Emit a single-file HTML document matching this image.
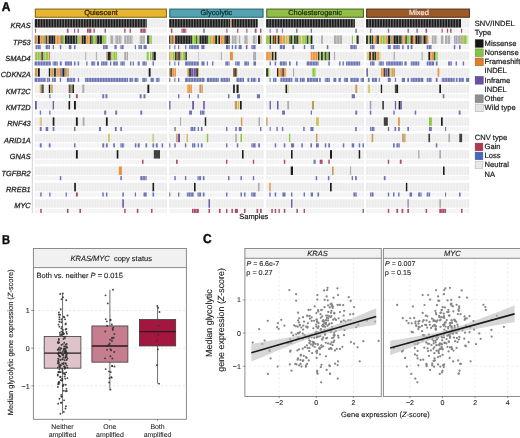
<!DOCTYPE html>
<html><head><meta charset="utf-8"><style>
html,body{margin:0;padding:0;background:#fff;}
body{width:520px;height:438px;overflow:hidden;}
svg{display:block;font-family:"Liberation Sans", sans-serif;}
text{text-rendering:geometricPrecision;}
</style></head><body>
<svg width="520" height="438" viewBox="0 0 520 438">
<defs><filter id="bl" x="-2%" y="-2%" width="104%" height="104%"><feGaussianBlur stdDeviation="0.45"/></filter>
<filter id="gb" x="0" y="0" width="100%" height="100%"><feGaussianBlur stdDeviation="0.3"/></filter></defs>
<rect width="520" height="438" fill="#fff"/><g filter="url(#gb)"><text transform="translate(1.75,11.15) scale(0.93,1)" font-size="12.9" font-weight="bold" fill="#111" stroke="#111" stroke-width="0.45">A</text><rect x="35.35" y="9.1" width="131.10" height="8.15" fill="#e8b532" stroke="#8a6a14" stroke-width="1.1"/><text x="100.90" y="15.40" font-size="7.45" text-anchor="middle" font-weight="normal" font-style="normal" fill="#2a2000" stroke="#2a2000" stroke-width="0.22">Quiescent</text><rect x="169.75" y="9.1" width="93.30" height="8.15" fill="#52a3b1" stroke="#2b6a76" stroke-width="1.1"/><text x="216.40" y="15.40" font-size="7.45" text-anchor="middle" font-weight="normal" font-style="normal" fill="#0e2a30" stroke="#0e2a30" stroke-width="0.22">Glycolytic</text><rect x="266.75" y="9.1" width="96.70" height="8.15" fill="#90be4a" stroke="#4b6d1c" stroke-width="1.1"/><text x="315.10" y="15.40" font-size="7.45" text-anchor="middle" font-weight="normal" font-style="normal" fill="#1c2a08" stroke="#1c2a08" stroke-width="0.22">Cholesterogenic</text><rect x="366.65" y="9.1" width="102.80" height="8.15" fill="#9b5a2b" stroke="#5e3414" stroke-width="1.1"/><text x="418.95" y="15.40" font-size="7.45" text-anchor="middle" font-weight="normal" font-style="normal" fill="#f4e6da" stroke="#f4e6da" stroke-width="0.22">Mixed</text><text x="30.70" y="28.45" font-size="7.4" text-anchor="end" font-weight="normal" font-style="italic" fill="#1c1c1c" stroke="#1c1c1c" stroke-width="0.25">KRAS</text><text x="30.70" y="44.79" font-size="7.4" text-anchor="end" font-weight="normal" font-style="italic" fill="#1c1c1c" stroke="#1c1c1c" stroke-width="0.25">TP53</text><text x="30.70" y="61.13" font-size="7.4" text-anchor="end" font-weight="normal" font-style="italic" fill="#1c1c1c" stroke="#1c1c1c" stroke-width="0.25">SMAD4</text><text x="30.70" y="77.47" font-size="7.4" text-anchor="end" font-weight="normal" font-style="italic" fill="#1c1c1c" stroke="#1c1c1c" stroke-width="0.25">CDKN2A</text><text x="30.70" y="93.81" font-size="7.4" text-anchor="end" font-weight="normal" font-style="italic" fill="#1c1c1c" stroke="#1c1c1c" stroke-width="0.25">KMT2C</text><text x="30.70" y="110.15" font-size="7.4" text-anchor="end" font-weight="normal" font-style="italic" fill="#1c1c1c" stroke="#1c1c1c" stroke-width="0.25">KMT2D</text><text x="30.70" y="126.49" font-size="7.4" text-anchor="end" font-weight="normal" font-style="italic" fill="#1c1c1c" stroke="#1c1c1c" stroke-width="0.25">RNF43</text><text x="30.70" y="142.83" font-size="7.4" text-anchor="end" font-weight="normal" font-style="italic" fill="#1c1c1c" stroke="#1c1c1c" stroke-width="0.25">ARID1A</text><text x="30.70" y="159.17" font-size="7.4" text-anchor="end" font-weight="normal" font-style="italic" fill="#1c1c1c" stroke="#1c1c1c" stroke-width="0.25">GNAS</text><text x="30.70" y="175.51" font-size="7.4" text-anchor="end" font-weight="normal" font-style="italic" fill="#1c1c1c" stroke="#1c1c1c" stroke-width="0.25">TGFBR2</text><text x="30.70" y="191.85" font-size="7.4" text-anchor="end" font-weight="normal" font-style="italic" fill="#1c1c1c" stroke="#1c1c1c" stroke-width="0.25">RREB1</text><text x="30.70" y="208.19" font-size="7.4" text-anchor="end" font-weight="normal" font-style="italic" fill="#1c1c1c" stroke="#1c1c1c" stroke-width="0.25">MYC</text><g filter="url(#bl)"><rect x="34.80" y="19.08" width="132.20" height="8.45" fill="#ececec"/><rect x="34.80" y="28.68" width="132.20" height="4.10" fill="#f3f3f3"/><rect x="169.20" y="19.08" width="94.40" height="8.45" fill="#ececec"/><rect x="169.20" y="28.68" width="94.40" height="4.10" fill="#f3f3f3"/><rect x="266.20" y="19.08" width="97.80" height="8.45" fill="#ececec"/><rect x="266.20" y="28.68" width="97.80" height="4.10" fill="#f3f3f3"/><rect x="366.10" y="19.08" width="103.10" height="8.45" fill="#ececec"/><rect x="366.10" y="28.68" width="103.10" height="4.10" fill="#f3f3f3"/><rect x="34.80" y="35.46" width="132.20" height="8.45" fill="#ececec"/><rect x="34.80" y="45.06" width="132.20" height="4.10" fill="#f3f3f3"/><rect x="169.20" y="35.46" width="94.40" height="8.45" fill="#ececec"/><rect x="169.20" y="45.06" width="94.40" height="4.10" fill="#f3f3f3"/><rect x="266.20" y="35.46" width="97.80" height="8.45" fill="#ececec"/><rect x="266.20" y="45.06" width="97.80" height="4.10" fill="#f3f3f3"/><rect x="366.10" y="35.46" width="103.10" height="8.45" fill="#ececec"/><rect x="366.10" y="45.06" width="103.10" height="4.10" fill="#f3f3f3"/><rect x="34.80" y="51.84" width="132.20" height="8.45" fill="#ececec"/><rect x="34.80" y="61.44" width="132.20" height="4.10" fill="#f3f3f3"/><rect x="169.20" y="51.84" width="94.40" height="8.45" fill="#ececec"/><rect x="169.20" y="61.44" width="94.40" height="4.10" fill="#f3f3f3"/><rect x="266.20" y="51.84" width="97.80" height="8.45" fill="#ececec"/><rect x="266.20" y="61.44" width="97.80" height="4.10" fill="#f3f3f3"/><rect x="366.10" y="51.84" width="103.10" height="8.45" fill="#ececec"/><rect x="366.10" y="61.44" width="103.10" height="4.10" fill="#f3f3f3"/><rect x="34.80" y="68.22" width="132.20" height="8.45" fill="#ececec"/><rect x="34.80" y="77.82" width="132.20" height="4.10" fill="#f3f3f3"/><rect x="169.20" y="68.22" width="94.40" height="8.45" fill="#ececec"/><rect x="169.20" y="77.82" width="94.40" height="4.10" fill="#f3f3f3"/><rect x="266.20" y="68.22" width="97.80" height="8.45" fill="#ececec"/><rect x="266.20" y="77.82" width="97.80" height="4.10" fill="#f3f3f3"/><rect x="366.10" y="68.22" width="103.10" height="8.45" fill="#ececec"/><rect x="366.10" y="77.82" width="103.10" height="4.10" fill="#f3f3f3"/><rect x="34.80" y="84.60" width="132.20" height="8.45" fill="#ececec"/><rect x="34.80" y="94.20" width="132.20" height="4.10" fill="#f3f3f3"/><rect x="169.20" y="84.60" width="94.40" height="8.45" fill="#ececec"/><rect x="169.20" y="94.20" width="94.40" height="4.10" fill="#f3f3f3"/><rect x="266.20" y="84.60" width="97.80" height="8.45" fill="#ececec"/><rect x="266.20" y="94.20" width="97.80" height="4.10" fill="#f3f3f3"/><rect x="366.10" y="84.60" width="103.10" height="8.45" fill="#ececec"/><rect x="366.10" y="94.20" width="103.10" height="4.10" fill="#f3f3f3"/><rect x="34.80" y="100.98" width="132.20" height="8.45" fill="#ececec"/><rect x="34.80" y="110.58" width="132.20" height="4.10" fill="#f3f3f3"/><rect x="169.20" y="100.98" width="94.40" height="8.45" fill="#ececec"/><rect x="169.20" y="110.58" width="94.40" height="4.10" fill="#f3f3f3"/><rect x="266.20" y="100.98" width="97.80" height="8.45" fill="#ececec"/><rect x="266.20" y="110.58" width="97.80" height="4.10" fill="#f3f3f3"/><rect x="366.10" y="100.98" width="103.10" height="8.45" fill="#ececec"/><rect x="366.10" y="110.58" width="103.10" height="4.10" fill="#f3f3f3"/><rect x="34.80" y="117.36" width="132.20" height="8.45" fill="#ececec"/><rect x="34.80" y="126.96" width="132.20" height="4.10" fill="#f3f3f3"/><rect x="169.20" y="117.36" width="94.40" height="8.45" fill="#ececec"/><rect x="169.20" y="126.96" width="94.40" height="4.10" fill="#f3f3f3"/><rect x="266.20" y="117.36" width="97.80" height="8.45" fill="#ececec"/><rect x="266.20" y="126.96" width="97.80" height="4.10" fill="#f3f3f3"/><rect x="366.10" y="117.36" width="103.10" height="8.45" fill="#ececec"/><rect x="366.10" y="126.96" width="103.10" height="4.10" fill="#f3f3f3"/><rect x="34.80" y="133.74" width="132.20" height="8.45" fill="#ececec"/><rect x="34.80" y="143.34" width="132.20" height="4.10" fill="#f3f3f3"/><rect x="169.20" y="133.74" width="94.40" height="8.45" fill="#ececec"/><rect x="169.20" y="143.34" width="94.40" height="4.10" fill="#f3f3f3"/><rect x="266.20" y="133.74" width="97.80" height="8.45" fill="#ececec"/><rect x="266.20" y="143.34" width="97.80" height="4.10" fill="#f3f3f3"/><rect x="366.10" y="133.74" width="103.10" height="8.45" fill="#ececec"/><rect x="366.10" y="143.34" width="103.10" height="4.10" fill="#f3f3f3"/><rect x="34.80" y="150.12" width="132.20" height="8.45" fill="#ececec"/><rect x="34.80" y="159.72" width="132.20" height="4.10" fill="#f3f3f3"/><rect x="169.20" y="150.12" width="94.40" height="8.45" fill="#ececec"/><rect x="169.20" y="159.72" width="94.40" height="4.10" fill="#f3f3f3"/><rect x="266.20" y="150.12" width="97.80" height="8.45" fill="#ececec"/><rect x="266.20" y="159.72" width="97.80" height="4.10" fill="#f3f3f3"/><rect x="366.10" y="150.12" width="103.10" height="8.45" fill="#ececec"/><rect x="366.10" y="159.72" width="103.10" height="4.10" fill="#f3f3f3"/><rect x="34.80" y="166.50" width="132.20" height="8.45" fill="#ececec"/><rect x="34.80" y="176.10" width="132.20" height="4.10" fill="#f3f3f3"/><rect x="169.20" y="166.50" width="94.40" height="8.45" fill="#ececec"/><rect x="169.20" y="176.10" width="94.40" height="4.10" fill="#f3f3f3"/><rect x="266.20" y="166.50" width="97.80" height="8.45" fill="#ececec"/><rect x="266.20" y="176.10" width="97.80" height="4.10" fill="#f3f3f3"/><rect x="366.10" y="166.50" width="103.10" height="8.45" fill="#ececec"/><rect x="366.10" y="176.10" width="103.10" height="4.10" fill="#f3f3f3"/><rect x="34.80" y="182.88" width="132.20" height="8.45" fill="#ececec"/><rect x="34.80" y="192.48" width="132.20" height="4.10" fill="#f3f3f3"/><rect x="169.20" y="182.88" width="94.40" height="8.45" fill="#ececec"/><rect x="169.20" y="192.48" width="94.40" height="4.10" fill="#f3f3f3"/><rect x="266.20" y="182.88" width="97.80" height="8.45" fill="#ececec"/><rect x="266.20" y="192.48" width="97.80" height="4.10" fill="#f3f3f3"/><rect x="366.10" y="182.88" width="103.10" height="8.45" fill="#ececec"/><rect x="366.10" y="192.48" width="103.10" height="4.10" fill="#f3f3f3"/><rect x="34.80" y="199.26" width="132.20" height="8.45" fill="#ececec"/><rect x="34.80" y="208.86" width="132.20" height="4.10" fill="#f3f3f3"/><rect x="169.20" y="199.26" width="94.40" height="8.45" fill="#ececec"/><rect x="169.20" y="208.86" width="94.40" height="4.10" fill="#f3f3f3"/><rect x="266.20" y="199.26" width="97.80" height="8.45" fill="#ececec"/><rect x="266.20" y="208.86" width="97.80" height="4.10" fill="#f3f3f3"/><rect x="366.10" y="199.26" width="103.10" height="8.45" fill="#ececec"/><rect x="366.10" y="208.86" width="103.10" height="4.10" fill="#f3f3f3"/><path d="M37.50 19V213M40.20 19V213M42.89 19V213M45.59 19V213M48.29 19V213M50.99 19V213M53.69 19V213M56.38 19V213M59.08 19V213M61.78 19V213M64.48 19V213M67.18 19V213M69.87 19V213M72.57 19V213M75.27 19V213M77.97 19V213M80.67 19V213M83.36 19V213M86.06 19V213M88.76 19V213M91.46 19V213M94.16 19V213M96.85 19V213M99.55 19V213M102.25 19V213M104.95 19V213M107.64 19V213M110.34 19V213M113.04 19V213M115.74 19V213M118.44 19V213M121.13 19V213M123.83 19V213M126.53 19V213M129.23 19V213M131.93 19V213M134.62 19V213M137.32 19V213M140.02 19V213M142.72 19V213M145.42 19V213M148.11 19V213M150.81 19V213M153.51 19V213M156.21 19V213M158.91 19V213M161.60 19V213M164.30 19V213M171.90 19V213M174.59 19V213M177.29 19V213M179.99 19V213M182.69 19V213M185.38 19V213M188.08 19V213M190.78 19V213M193.47 19V213M196.17 19V213M198.87 19V213M201.57 19V213M204.26 19V213M206.96 19V213M209.66 19V213M212.35 19V213M215.05 19V213M217.75 19V213M220.45 19V213M223.14 19V213M225.84 19V213M228.54 19V213M231.23 19V213M233.93 19V213M236.63 19V213M239.33 19V213M242.02 19V213M244.72 19V213M247.42 19V213M250.11 19V213M252.81 19V213M255.51 19V213M258.21 19V213M260.90 19V213M268.92 19V213M271.63 19V213M274.35 19V213M277.07 19V213M279.78 19V213M282.50 19V213M285.22 19V213M287.93 19V213M290.65 19V213M293.37 19V213M296.08 19V213M298.80 19V213M301.52 19V213M304.23 19V213M306.95 19V213M309.67 19V213M312.38 19V213M315.10 19V213M317.82 19V213M320.53 19V213M323.25 19V213M325.97 19V213M328.68 19V213M331.40 19V213M334.12 19V213M336.83 19V213M339.55 19V213M342.27 19V213M344.98 19V213M347.70 19V213M350.42 19V213M353.13 19V213M355.85 19V213M358.57 19V213M361.28 19V213M368.81 19V213M371.53 19V213M374.24 19V213M376.95 19V213M379.67 19V213M382.38 19V213M385.09 19V213M387.81 19V213M390.52 19V213M393.23 19V213M395.94 19V213M398.66 19V213M401.37 19V213M404.08 19V213M406.80 19V213M409.51 19V213M412.22 19V213M414.94 19V213M417.65 19V213M420.36 19V213M423.08 19V213M425.79 19V213M428.50 19V213M431.22 19V213M433.93 19V213M436.64 19V213M439.36 19V213M442.07 19V213M444.78 19V213M447.49 19V213M450.21 19V213M452.92 19V213M455.63 19V213M458.35 19V213M461.06 19V213M463.77 19V213M466.49 19V213" stroke="#fff" stroke-width="0.7" stroke-opacity="0.55"/><rect x="34.80" y="19.08" width="111.90" height="8.45" fill="#1e1e1e"/><rect x="169.20" y="19.08" width="61.10" height="8.45" fill="#1e1e1e"/><rect x="230.30" y="19.08" width="1.10" height="8.45" fill="#e8923a"/><rect x="231.40" y="19.08" width="26.30" height="8.45" fill="#1e1e1e"/><rect x="266.20" y="19.08" width="88.70" height="8.45" fill="#1e1e1e"/><rect x="366.10" y="19.08" width="94.90" height="8.45" fill="#1e1e1e"/><rect x="35.00" y="28.68" width="0.90" height="4.10" fill="#a4506e"/><rect x="66.90" y="28.68" width="1.60" height="4.10" fill="#a4506e"/><rect x="74.00" y="28.68" width="1.20" height="4.10" fill="#7a7aa8"/><rect x="77.60" y="28.68" width="1.20" height="4.10" fill="#a4506e"/><rect x="87.00" y="28.68" width="4.30" height="4.10" fill="#a4506e"/><rect x="93.50" y="28.68" width="1.30" height="4.10" fill="#a4506e"/><rect x="104.60" y="28.68" width="1.30" height="4.10" fill="#a4506e"/><rect x="124.20" y="28.68" width="1.30" height="4.10" fill="#a4506e"/><rect x="129.60" y="28.68" width="1.30" height="4.10" fill="#a4506e"/><rect x="140.30" y="28.68" width="5.80" height="4.10" fill="#a4506e"/><rect x="170.90" y="28.68" width="1.40" height="4.10" fill="#a4506e"/><rect x="181.50" y="28.68" width="4.80" height="4.10" fill="#a4506e"/><rect x="203.20" y="28.68" width="1.60" height="4.10" fill="#7a7aa8"/><rect x="226.30" y="28.68" width="1.10" height="4.10" fill="#a4506e"/><rect x="237.10" y="28.68" width="1.20" height="4.10" fill="#a4506e"/><rect x="246.30" y="28.68" width="1.10" height="4.10" fill="#a4506e"/><rect x="254.80" y="28.68" width="1.70" height="4.10" fill="#a4506e"/><rect x="260.00" y="28.68" width="1.40" height="4.10" fill="#a4506e"/><rect x="269.60" y="28.68" width="1.10" height="4.10" fill="#7a7aa8"/><rect x="276.40" y="28.68" width="1.20" height="4.10" fill="#7a7aa8"/><rect x="281.90" y="28.68" width="1.10" height="4.10" fill="#7a7aa8"/><rect x="296.00" y="28.68" width="1.50" height="4.10" fill="#7a7aa8"/><rect x="310.70" y="28.68" width="1.30" height="4.10" fill="#7a7aa8"/><rect x="355.30" y="28.68" width="1.50" height="4.10" fill="#7a7aa8"/><rect x="370.10" y="28.68" width="1.20" height="4.10" fill="#7a7aa8"/><rect x="387.80" y="28.68" width="1.40" height="4.10" fill="#7a7aa8"/><rect x="407.50" y="28.68" width="1.50" height="4.10" fill="#7a7aa8"/><rect x="416.40" y="28.68" width="1.50" height="4.10" fill="#7a7aa8"/><rect x="425.60" y="28.68" width="1.50" height="4.10" fill="#a4506e"/><rect x="441.60" y="28.68" width="1.10" height="4.10" fill="#a4506e"/><rect x="446.90" y="28.68" width="1.20" height="4.10" fill="#a4506e"/><rect x="450.10" y="28.68" width="1.40" height="4.10" fill="#a4506e"/><rect x="461.00" y="28.68" width="1.10" height="4.10" fill="#a4506e"/><rect x="34.80" y="35.46" width="0.70" height="8.45" fill="#1e1e1e"/><rect x="35.50" y="35.46" width="2.10" height="8.45" fill="#e8923a"/><rect x="37.60" y="35.46" width="2.80" height="8.45" fill="#1e1e1e"/><rect x="40.40" y="35.46" width="1.60" height="8.45" fill="#e8923a"/><rect x="42.00" y="35.46" width="3.30" height="8.45" fill="#c49a52"/><rect x="45.30" y="35.46" width="1.60" height="8.45" fill="#1e1e1e"/><rect x="46.90" y="35.46" width="1.50" height="8.45" fill="#c49a52"/><rect x="48.40" y="35.46" width="6.90" height="8.45" fill="#1e1e1e"/><rect x="55.30" y="35.46" width="4.50" height="8.45" fill="#e8923a"/><rect x="59.80" y="35.46" width="1.50" height="8.45" fill="#c49a52"/><rect x="61.30" y="35.46" width="1.30" height="8.45" fill="#1e1e1e"/><rect x="62.60" y="35.46" width="2.30" height="8.45" fill="#8dc63f"/><rect x="64.90" y="35.46" width="10.60" height="8.45" fill="#1e1e1e"/><rect x="75.50" y="35.46" width="2.10" height="8.45" fill="#2e3a22"/><rect x="77.60" y="35.46" width="2.10" height="8.45" fill="#8dc63f"/><rect x="79.70" y="35.46" width="2.20" height="8.45" fill="#c49a52"/><rect x="81.90" y="35.46" width="4.30" height="8.45" fill="#1e1e1e"/><rect x="86.20" y="35.46" width="3.90" height="8.45" fill="#e8923a"/><rect x="90.10" y="35.46" width="2.50" height="8.45" fill="#1e1e1e"/><rect x="92.60" y="35.46" width="3.90" height="8.45" fill="#8dc63f"/><rect x="96.50" y="35.46" width="6.00" height="8.45" fill="#1e1e1e"/><rect x="102.50" y="35.46" width="3.70" height="8.45" fill="#8dc63f"/><rect x="110.00" y="35.46" width="3.20" height="8.45" fill="#adadad"/><rect x="114.90" y="35.46" width="6.70" height="8.45" fill="#adadad"/><rect x="124.20" y="35.46" width="8.40" height="8.45" fill="#adadad"/><rect x="139.70" y="35.46" width="5.10" height="8.45" fill="#adadad"/><rect x="147.10" y="35.46" width="2.20" height="8.45" fill="#1e1e1e"/><rect x="149.30" y="35.46" width="2.60" height="8.45" fill="#8dc63f"/><rect x="169.20" y="35.46" width="1.30" height="8.45" fill="#1e1e1e"/><rect x="170.50" y="35.46" width="1.20" height="8.45" fill="#e8923a"/><rect x="171.70" y="35.46" width="1.10" height="8.45" fill="#1e1e1e"/><rect x="172.80" y="35.46" width="2.30" height="8.45" fill="#e8923a"/><rect x="175.10" y="35.46" width="16.90" height="8.45" fill="#1e1e1e"/><rect x="192.00" y="35.46" width="4.00" height="8.45" fill="#8dc63f"/><rect x="196.00" y="35.46" width="1.10" height="8.45" fill="#1e1e1e"/><rect x="197.10" y="35.46" width="2.30" height="8.45" fill="#8dc63f"/><rect x="199.40" y="35.46" width="8.80" height="8.45" fill="#1e1e1e"/><rect x="208.20" y="35.46" width="3.20" height="8.45" fill="#8dc63f"/><rect x="211.40" y="35.46" width="3.40" height="8.45" fill="#e8923a"/><rect x="214.80" y="35.46" width="2.30" height="8.45" fill="#1e1e1e"/><rect x="217.10" y="35.46" width="1.20" height="8.45" fill="#8dc63f"/><rect x="218.30" y="35.46" width="1.70" height="8.45" fill="#1e1e1e"/><rect x="220.00" y="35.46" width="4.60" height="8.45" fill="#e8923a"/><rect x="224.60" y="35.46" width="5.10" height="8.45" fill="#1e1e1e"/><rect x="231.80" y="35.46" width="5.30" height="8.45" fill="#adadad"/><rect x="238.80" y="35.46" width="1.40" height="8.45" fill="#adadad"/><rect x="244.00" y="35.46" width="4.00" height="8.45" fill="#adadad"/><rect x="252.80" y="35.46" width="3.70" height="8.45" fill="#adadad"/><rect x="258.00" y="35.46" width="2.30" height="8.45" fill="#1e1e1e"/><rect x="260.30" y="35.46" width="1.40" height="8.45" fill="#c49a52"/><rect x="266.20" y="35.46" width="3.40" height="8.45" fill="#8dc63f"/><rect x="269.60" y="35.46" width="1.70" height="8.45" fill="#1e1e1e"/><rect x="271.30" y="35.46" width="1.70" height="8.45" fill="#c49a52"/><rect x="273.00" y="35.46" width="3.40" height="8.45" fill="#5a3a1e"/><rect x="276.40" y="35.46" width="1.40" height="8.45" fill="#c49a52"/><rect x="277.80" y="35.46" width="2.00" height="8.45" fill="#1e1e1e"/><rect x="279.80" y="35.46" width="4.00" height="8.45" fill="#e8923a"/><rect x="283.80" y="35.46" width="1.70" height="8.45" fill="#c49a52"/><rect x="285.50" y="35.46" width="4.00" height="8.45" fill="#cfc25a"/><rect x="289.50" y="35.46" width="2.90" height="8.45" fill="#1e1e1e"/><rect x="292.40" y="35.46" width="1.70" height="8.45" fill="#8dc63f"/><rect x="294.10" y="35.46" width="1.70" height="8.45" fill="#1e1e1e"/><rect x="295.80" y="35.46" width="2.90" height="8.45" fill="#2e3a22"/><rect x="298.70" y="35.46" width="1.10" height="8.45" fill="#8dc63f"/><rect x="299.80" y="35.46" width="2.90" height="8.45" fill="#cfc25a"/><rect x="302.70" y="35.46" width="4.00" height="8.45" fill="#8dc63f"/><rect x="306.70" y="35.46" width="1.70" height="8.45" fill="#1e1e1e"/><rect x="308.40" y="35.46" width="2.30" height="8.45" fill="#8dc63f"/><rect x="310.70" y="35.46" width="1.70" height="8.45" fill="#1e1e1e"/><rect x="321.10" y="35.46" width="1.80" height="8.45" fill="#adadad"/><rect x="334.00" y="35.46" width="8.00" height="8.45" fill="#adadad"/><rect x="351.90" y="35.46" width="1.10" height="8.45" fill="#8dc63f"/><rect x="356.50" y="35.46" width="2.20" height="8.45" fill="#2e3a22"/><rect x="366.10" y="35.46" width="1.80" height="8.45" fill="#1e1e1e"/><rect x="367.90" y="35.46" width="1.70" height="8.45" fill="#8dc63f"/><rect x="369.60" y="35.46" width="1.70" height="8.45" fill="#1e1e1e"/><rect x="371.30" y="35.46" width="1.70" height="8.45" fill="#2e3a22"/><rect x="373.00" y="35.46" width="1.70" height="8.45" fill="#c49a52"/><rect x="374.70" y="35.46" width="1.70" height="8.45" fill="#e8923a"/><rect x="376.40" y="35.46" width="2.50" height="8.45" fill="#1e1e1e"/><rect x="378.90" y="35.46" width="2.10" height="8.45" fill="#cfc25a"/><rect x="381.00" y="35.46" width="1.10" height="8.45" fill="#e8923a"/><rect x="382.10" y="35.46" width="3.50" height="8.45" fill="#8dc63f"/><rect x="385.60" y="35.46" width="2.20" height="8.45" fill="#e8923a"/><rect x="387.80" y="35.46" width="2.90" height="8.45" fill="#1e1e1e"/><rect x="390.70" y="35.46" width="2.60" height="8.45" fill="#c49a52"/><rect x="393.30" y="35.46" width="4.80" height="8.45" fill="#1e1e1e"/><rect x="398.10" y="35.46" width="4.00" height="8.45" fill="#2e3a22"/><rect x="402.10" y="35.46" width="1.70" height="8.45" fill="#c49a52"/><rect x="403.80" y="35.46" width="1.70" height="8.45" fill="#e8923a"/><rect x="405.50" y="35.46" width="1.80" height="8.45" fill="#1e1e1e"/><rect x="407.30" y="35.46" width="3.40" height="8.45" fill="#8dc63f"/><rect x="410.70" y="35.46" width="2.30" height="8.45" fill="#1e1e1e"/><rect x="413.00" y="35.46" width="2.30" height="8.45" fill="#e8923a"/><rect x="415.30" y="35.46" width="4.00" height="8.45" fill="#1e1e1e"/><rect x="419.30" y="35.46" width="2.30" height="8.45" fill="#1e1e1e"/><rect x="421.60" y="35.46" width="1.70" height="8.45" fill="#c49a52"/><rect x="423.30" y="35.46" width="3.40" height="8.45" fill="#1e1e1e"/><rect x="426.70" y="35.46" width="1.70" height="8.45" fill="#e8923a"/><rect x="431.80" y="35.46" width="5.20" height="8.45" fill="#adadad"/><rect x="441.00" y="35.46" width="2.30" height="8.45" fill="#adadad"/><rect x="445.00" y="35.46" width="5.10" height="8.45" fill="#adadad"/><rect x="454.10" y="35.46" width="3.40" height="8.45" fill="#a49cc0"/><rect x="458.10" y="35.46" width="2.90" height="8.45" fill="#adadad"/><rect x="461.00" y="35.46" width="1.70" height="8.45" fill="#c49a52"/><rect x="462.70" y="35.46" width="4.60" height="8.45" fill="#8dc63f"/><rect x="35.50" y="45.06" width="5.50" height="4.10" fill="#6b75b6"/><rect x="45.60" y="45.06" width="4.40" height="4.10" fill="#6b75b6"/><rect x="52.70" y="45.06" width="1.30" height="4.10" fill="#6b75b6"/><rect x="59.80" y="45.06" width="1.50" height="4.10" fill="#6b75b6"/><rect x="68.80" y="45.06" width="2.60" height="4.10" fill="#6b75b6"/><rect x="74.00" y="45.06" width="1.50" height="4.10" fill="#6b75b6"/><rect x="103.00" y="45.06" width="4.70" height="4.10" fill="#6b75b6"/><rect x="114.50" y="45.06" width="2.20" height="4.10" fill="#6b75b6"/><rect x="120.30" y="45.06" width="3.30" height="4.10" fill="#6b75b6"/><rect x="134.80" y="45.06" width="1.20" height="4.10" fill="#6b75b6"/><rect x="138.40" y="45.06" width="3.60" height="4.10" fill="#6b75b6"/><rect x="143.50" y="45.06" width="3.20" height="4.10" fill="#6b75b6"/><rect x="169.20" y="45.06" width="1.10" height="4.10" fill="#6b75b6"/><rect x="174.30" y="45.06" width="1.10" height="4.10" fill="#6b75b6"/><rect x="178.00" y="45.06" width="1.20" height="4.10" fill="#6b75b6"/><rect x="185.10" y="45.06" width="1.20" height="4.10" fill="#6b75b6"/><rect x="189.10" y="45.06" width="9.70" height="4.10" fill="#6b75b6"/><rect x="201.30" y="45.06" width="3.20" height="4.10" fill="#6b75b6"/><rect x="226.00" y="45.06" width="3.70" height="4.10" fill="#6b75b6"/><rect x="231.80" y="45.06" width="1.30" height="4.10" fill="#6b75b6"/><rect x="234.80" y="45.06" width="1.70" height="4.10" fill="#6b75b6"/><rect x="238.60" y="45.06" width="3.10" height="4.10" fill="#6b75b6"/><rect x="245.90" y="45.06" width="1.50" height="4.10" fill="#a4506e"/><rect x="251.40" y="45.06" width="4.60" height="4.10" fill="#6b75b6"/><rect x="269.60" y="45.06" width="1.10" height="4.10" fill="#6b75b6"/><rect x="279.80" y="45.06" width="5.20" height="4.10" fill="#6b75b6"/><rect x="292.40" y="45.06" width="1.70" height="4.10" fill="#6b75b6"/><rect x="303.80" y="45.06" width="1.40" height="4.10" fill="#6b75b6"/><rect x="310.70" y="45.06" width="3.40" height="4.10" fill="#6b75b6"/><rect x="326.80" y="45.06" width="1.50" height="4.10" fill="#6b75b6"/><rect x="350.30" y="45.06" width="6.50" height="4.10" fill="#6b75b6"/><rect x="370.10" y="45.06" width="4.60" height="4.10" fill="#6b75b6"/><rect x="387.80" y="45.06" width="2.90" height="4.10" fill="#6b75b6"/><rect x="393.30" y="45.06" width="6.50" height="4.10" fill="#6b75b6"/><rect x="402.10" y="45.06" width="1.50" height="4.10" fill="#6b75b6"/><rect x="407.30" y="45.06" width="1.70" height="4.10" fill="#6b75b6"/><rect x="410.70" y="45.06" width="1.70" height="4.10" fill="#6b75b6"/><rect x="426.70" y="45.06" width="5.10" height="4.10" fill="#6b75b6"/><rect x="453.80" y="45.06" width="1.50" height="4.10" fill="#6b75b6"/><rect x="459.00" y="45.06" width="1.60" height="4.10" fill="#6b75b6"/><rect x="34.80" y="51.84" width="0.70" height="8.45" fill="#c49a52"/><rect x="35.50" y="51.84" width="4.30" height="8.45" fill="#8dc63f"/><rect x="39.80" y="51.84" width="1.70" height="8.45" fill="#c49a52"/><rect x="41.50" y="51.84" width="1.80" height="8.45" fill="#1e1e1e"/><rect x="43.30" y="51.84" width="1.00" height="8.45" fill="#c49a52"/><rect x="44.30" y="51.84" width="4.10" height="8.45" fill="#8dc63f"/><rect x="48.40" y="51.84" width="1.70" height="8.45" fill="#c49a52"/><rect x="85.30" y="51.84" width="0.90" height="8.45" fill="#adadad"/><rect x="95.90" y="51.84" width="1.00" height="8.45" fill="#adadad"/><rect x="106.20" y="51.84" width="1.20" height="8.45" fill="#c49a52"/><rect x="107.40" y="51.84" width="3.90" height="8.45" fill="#1e1e1e"/><rect x="111.30" y="51.84" width="1.90" height="8.45" fill="#cfc25a"/><rect x="113.20" y="51.84" width="3.90" height="8.45" fill="#8dc63f"/><rect x="124.20" y="51.84" width="3.80" height="8.45" fill="#adadad"/><rect x="146.70" y="51.84" width="2.00" height="8.45" fill="#8dc63f"/><rect x="150.00" y="51.84" width="1.50" height="8.45" fill="#8dc63f"/><rect x="152.50" y="51.84" width="3.30" height="8.45" fill="#1e1e1e"/><rect x="169.20" y="51.84" width="1.10" height="8.45" fill="#c49a52"/><rect x="170.30" y="51.84" width="2.50" height="8.45" fill="#cfc25a"/><rect x="172.80" y="51.84" width="2.00" height="8.45" fill="#8dc63f"/><rect x="174.80" y="51.84" width="1.80" height="8.45" fill="#2e3a22"/><rect x="176.60" y="51.84" width="2.20" height="8.45" fill="#5a3a1e"/><rect x="178.80" y="51.84" width="1.80" height="8.45" fill="#1e1e1e"/><rect x="180.60" y="51.84" width="1.70" height="8.45" fill="#cfc25a"/><rect x="182.30" y="51.84" width="2.80" height="8.45" fill="#8dc63f"/><rect x="185.10" y="51.84" width="1.70" height="8.45" fill="#1e1e1e"/><rect x="198.30" y="51.84" width="0.60" height="8.45" fill="#adadad"/><rect x="220.80" y="51.84" width="1.10" height="8.45" fill="#adadad"/><rect x="229.90" y="51.84" width="3.00" height="8.45" fill="#e8923a"/><rect x="253.10" y="51.84" width="2.90" height="8.45" fill="#adadad"/><rect x="266.20" y="51.84" width="4.50" height="8.45" fill="#e8923a"/><rect x="270.70" y="51.84" width="1.10" height="8.45" fill="#c49a52"/><rect x="271.80" y="51.84" width="1.80" height="8.45" fill="#1e1e1e"/><rect x="273.60" y="51.84" width="1.40" height="8.45" fill="#c49a52"/><rect x="275.00" y="51.84" width="1.40" height="8.45" fill="#1e1e1e"/><rect x="310.70" y="51.84" width="7.30" height="8.45" fill="#e8923a"/><rect x="318.00" y="51.84" width="1.50" height="8.45" fill="#1e1e1e"/><rect x="319.50" y="51.84" width="1.60" height="8.45" fill="#8dc63f"/><rect x="321.10" y="51.84" width="1.80" height="8.45" fill="#1e1e1e"/><rect x="322.90" y="51.84" width="1.90" height="8.45" fill="#8dc63f"/><rect x="324.80" y="51.84" width="1.80" height="8.45" fill="#1e1e1e"/><rect x="326.60" y="51.84" width="1.70" height="8.45" fill="#8dc63f"/><rect x="328.30" y="51.84" width="1.70" height="8.45" fill="#1e1e1e"/><rect x="334.00" y="51.84" width="1.10" height="8.45" fill="#adadad"/><rect x="367.30" y="51.84" width="1.70" height="8.45" fill="#cfc25a"/><rect x="369.00" y="51.84" width="2.30" height="8.45" fill="#5a3a1e"/><rect x="371.30" y="51.84" width="1.10" height="8.45" fill="#e8923a"/><rect x="372.40" y="51.84" width="1.70" height="8.45" fill="#1e1e1e"/><rect x="374.10" y="51.84" width="2.30" height="8.45" fill="#2e3a22"/><rect x="376.40" y="51.84" width="2.50" height="8.45" fill="#e8923a"/><rect x="378.90" y="51.84" width="1.50" height="8.45" fill="#cfc25a"/><rect x="393.60" y="51.84" width="1.30" height="8.45" fill="#adadad"/><rect x="421.60" y="51.84" width="1.10" height="8.45" fill="#adadad"/><rect x="428.40" y="51.84" width="1.70" height="8.45" fill="#1e1e1e"/><rect x="430.10" y="51.84" width="3.50" height="8.45" fill="#e8923a"/><rect x="433.60" y="51.84" width="1.70" height="8.45" fill="#2e3a22"/><rect x="435.30" y="51.84" width="2.30" height="8.45" fill="#8dc63f"/><rect x="34.60" y="61.44" width="16.20" height="4.10" fill="#6b75b6"/><rect x="52.70" y="61.44" width="5.10" height="4.10" fill="#6b75b6"/><rect x="59.80" y="61.44" width="1.90" height="4.10" fill="#6b75b6"/><rect x="64.90" y="61.44" width="7.10" height="4.10" fill="#6b75b6"/><rect x="74.00" y="61.44" width="1.50" height="4.10" fill="#6b75b6"/><rect x="77.60" y="61.44" width="1.50" height="4.10" fill="#6b75b6"/><rect x="86.20" y="61.44" width="1.30" height="4.10" fill="#6b75b6"/><rect x="91.30" y="61.44" width="3.90" height="4.10" fill="#6b75b6"/><rect x="97.00" y="61.44" width="2.00" height="4.10" fill="#6b75b6"/><rect x="101.00" y="61.44" width="6.40" height="4.10" fill="#6b75b6"/><rect x="110.00" y="61.44" width="1.30" height="4.10" fill="#6b75b6"/><rect x="113.20" y="61.44" width="4.60" height="4.10" fill="#6b75b6"/><rect x="120.30" y="61.44" width="4.50" height="4.10" fill="#6b75b6"/><rect x="130.00" y="61.44" width="1.30" height="4.10" fill="#6b75b6"/><rect x="132.60" y="61.44" width="1.30" height="4.10" fill="#6b75b6"/><rect x="137.70" y="61.44" width="2.00" height="4.10" fill="#6b75b6"/><rect x="142.20" y="61.44" width="4.50" height="4.10" fill="#6b75b6"/><rect x="152.50" y="61.44" width="1.50" height="4.10" fill="#6b75b6"/><rect x="169.20" y="61.44" width="1.10" height="4.10" fill="#6b75b6"/><rect x="174.30" y="61.44" width="1.10" height="4.10" fill="#6b75b6"/><rect x="178.00" y="61.44" width="1.20" height="4.10" fill="#6b75b6"/><rect x="185.10" y="61.44" width="13.70" height="4.10" fill="#6b75b6"/><rect x="201.10" y="61.44" width="3.40" height="4.10" fill="#6b75b6"/><rect x="206.80" y="61.44" width="1.20" height="4.10" fill="#6b75b6"/><rect x="212.00" y="61.44" width="1.40" height="4.10" fill="#6b75b6"/><rect x="225.10" y="61.44" width="4.40" height="4.10" fill="#6b75b6"/><rect x="235.20" y="61.44" width="4.80" height="4.10" fill="#6b75b6"/><rect x="244.00" y="61.44" width="4.90" height="4.10" fill="#6b75b6"/><rect x="253.40" y="61.44" width="2.60" height="4.10" fill="#6b75b6"/><rect x="269.60" y="61.44" width="1.30" height="4.10" fill="#6b75b6"/><rect x="274.70" y="61.44" width="1.50" height="4.10" fill="#6b75b6"/><rect x="279.80" y="61.44" width="6.90" height="4.10" fill="#6b75b6"/><rect x="289.00" y="61.44" width="1.70" height="4.10" fill="#6b75b6"/><rect x="296.00" y="61.44" width="1.50" height="4.10" fill="#6b75b6"/><rect x="306.70" y="61.44" width="11.90" height="4.10" fill="#6b75b6"/><rect x="328.30" y="61.44" width="1.50" height="4.10" fill="#6b75b6"/><rect x="339.10" y="61.44" width="1.40" height="4.10" fill="#6b75b6"/><rect x="342.50" y="61.44" width="1.40" height="4.10" fill="#6b75b6"/><rect x="346.00" y="61.44" width="14.20" height="4.10" fill="#6b75b6"/><rect x="370.10" y="61.44" width="4.60" height="4.10" fill="#6b75b6"/><rect x="378.70" y="61.44" width="5.10" height="4.10" fill="#6b75b6"/><rect x="386.10" y="61.44" width="16.60" height="4.10" fill="#6b75b6"/><rect x="404.40" y="61.44" width="2.30" height="4.10" fill="#6b75b6"/><rect x="410.70" y="61.44" width="8.60" height="4.10" fill="#6b75b6"/><rect x="426.70" y="61.44" width="7.40" height="4.10" fill="#6b75b6"/><rect x="435.80" y="61.44" width="1.80" height="4.10" fill="#6b75b6"/><rect x="448.10" y="61.44" width="3.70" height="4.10" fill="#6b75b6"/><rect x="455.60" y="61.44" width="1.40" height="4.10" fill="#6b75b6"/><rect x="462.70" y="61.44" width="1.40" height="4.10" fill="#6b75b6"/><rect x="34.80" y="68.22" width="3.10" height="8.45" fill="#c49a52"/><rect x="37.90" y="68.22" width="1.90" height="8.45" fill="#1e1e1e"/><rect x="48.80" y="68.22" width="1.30" height="8.45" fill="#1e1e1e"/><rect x="50.10" y="68.22" width="3.90" height="8.45" fill="#c49a52"/><rect x="54.00" y="68.22" width="1.90" height="8.45" fill="#1e1e1e"/><rect x="55.90" y="68.22" width="1.90" height="8.45" fill="#c49a52"/><rect x="57.80" y="68.22" width="2.60" height="8.45" fill="#e8923a"/><rect x="60.40" y="68.22" width="2.00" height="8.45" fill="#6f58a8"/><rect x="62.40" y="68.22" width="2.50" height="8.45" fill="#1e1e1e"/><rect x="64.90" y="68.22" width="3.90" height="8.45" fill="#c49a52"/><rect x="148.70" y="68.22" width="1.90" height="8.45" fill="#1e1e1e"/><rect x="169.20" y="68.22" width="1.30" height="8.45" fill="#c49a52"/><rect x="170.50" y="68.22" width="1.80" height="8.45" fill="#1e1e1e"/><rect x="172.30" y="68.22" width="3.70" height="8.45" fill="#e8923a"/><rect x="187.40" y="68.22" width="1.70" height="8.45" fill="#c49a52"/><rect x="189.10" y="68.22" width="2.30" height="8.45" fill="#404040"/><rect x="191.40" y="68.22" width="4.60" height="8.45" fill="#6f58a8"/><rect x="196.00" y="68.22" width="1.90" height="8.45" fill="#1e1e1e"/><rect x="197.90" y="68.22" width="1.10" height="8.45" fill="#cfc25a"/><rect x="233.10" y="68.22" width="4.00" height="8.45" fill="#5a3a1e"/><rect x="266.20" y="68.22" width="1.70" height="8.45" fill="#1e1e1e"/><rect x="267.90" y="68.22" width="1.40" height="8.45" fill="#8dc63f"/><rect x="277.00" y="68.22" width="1.50" height="8.45" fill="#1e1e1e"/><rect x="278.50" y="68.22" width="3.40" height="8.45" fill="#e8923a"/><rect x="281.90" y="68.22" width="1.90" height="8.45" fill="#1e1e1e"/><rect x="283.80" y="68.22" width="2.30" height="8.45" fill="#e8923a"/><rect x="293.00" y="68.22" width="1.10" height="8.45" fill="#adadad"/><rect x="312.00" y="68.22" width="3.70" height="8.45" fill="#8dc63f"/><rect x="366.40" y="68.22" width="1.50" height="8.45" fill="#6f58a8"/><rect x="381.00" y="68.22" width="2.80" height="8.45" fill="#e8923a"/><rect x="383.80" y="68.22" width="1.80" height="8.45" fill="#1e1e1e"/><rect x="385.60" y="68.22" width="2.20" height="8.45" fill="#6f58a8"/><rect x="387.80" y="68.22" width="1.80" height="8.45" fill="#1e1e1e"/><rect x="389.60" y="68.22" width="2.20" height="8.45" fill="#cfc25a"/><rect x="391.80" y="68.22" width="3.10" height="8.45" fill="#c49a52"/><rect x="437.60" y="68.22" width="1.70" height="8.45" fill="#e8923a"/><rect x="34.60" y="77.82" width="11.00" height="4.10" fill="#6b75b6"/><rect x="46.90" y="77.82" width="3.20" height="4.10" fill="#6b75b6"/><rect x="52.00" y="77.82" width="3.90" height="4.10" fill="#6b75b6"/><rect x="59.80" y="77.82" width="1.30" height="4.10" fill="#6b75b6"/><rect x="66.90" y="77.82" width="8.30" height="4.10" fill="#6b75b6"/><rect x="77.80" y="77.82" width="1.30" height="4.10" fill="#6b75b6"/><rect x="84.90" y="77.82" width="43.20" height="4.10" fill="#6b75b6"/><rect x="129.40" y="77.82" width="3.80" height="4.10" fill="#6b75b6"/><rect x="134.50" y="77.82" width="3.90" height="4.10" fill="#6b75b6"/><rect x="142.00" y="77.82" width="4.70" height="4.10" fill="#6b75b6"/><rect x="150.60" y="77.82" width="3.20" height="4.10" fill="#6b75b6"/><rect x="155.80" y="77.82" width="3.80" height="4.10" fill="#6b75b6"/><rect x="169.20" y="77.82" width="1.10" height="4.10" fill="#6b75b6"/><rect x="174.30" y="77.82" width="1.10" height="4.10" fill="#6b75b6"/><rect x="178.00" y="77.82" width="1.40" height="4.10" fill="#6b75b6"/><rect x="185.10" y="77.82" width="19.40" height="4.10" fill="#6b75b6"/><rect x="206.80" y="77.82" width="12.10" height="4.10" fill="#6b75b6"/><rect x="220.60" y="77.82" width="9.30" height="4.10" fill="#6b75b6"/><rect x="236.50" y="77.82" width="7.50" height="4.10" fill="#6b75b6"/><rect x="247.40" y="77.82" width="1.90" height="4.10" fill="#6b75b6"/><rect x="250.80" y="77.82" width="5.40" height="4.10" fill="#6b75b6"/><rect x="258.00" y="77.82" width="2.00" height="4.10" fill="#6b75b6"/><rect x="269.60" y="77.82" width="1.10" height="4.10" fill="#6b75b6"/><rect x="273.00" y="77.82" width="3.40" height="4.10" fill="#6b75b6"/><rect x="280.40" y="77.82" width="12.00" height="4.10" fill="#6b75b6"/><rect x="294.90" y="77.82" width="3.20" height="4.10" fill="#6b75b6"/><rect x="299.80" y="77.82" width="5.20" height="4.10" fill="#6b75b6"/><rect x="307.00" y="77.82" width="11.00" height="4.10" fill="#6b75b6"/><rect x="319.10" y="77.82" width="1.70" height="4.10" fill="#6b75b6"/><rect x="324.80" y="77.82" width="5.20" height="4.10" fill="#6b75b6"/><rect x="333.40" y="77.82" width="2.90" height="4.10" fill="#6b75b6"/><rect x="338.50" y="77.82" width="2.30" height="4.10" fill="#6b75b6"/><rect x="343.90" y="77.82" width="4.10" height="4.10" fill="#6b75b6"/><rect x="350.00" y="77.82" width="8.70" height="4.10" fill="#6b75b6"/><rect x="360.60" y="77.82" width="3.40" height="4.10" fill="#6b75b6"/><rect x="367.90" y="77.82" width="1.70" height="4.10" fill="#6b75b6"/><rect x="371.90" y="77.82" width="5.10" height="4.10" fill="#6b75b6"/><rect x="378.70" y="77.82" width="1.10" height="4.10" fill="#6b75b6"/><rect x="387.80" y="77.82" width="2.90" height="4.10" fill="#6b75b6"/><rect x="394.90" y="77.82" width="1.20" height="4.10" fill="#6b75b6"/><rect x="401.80" y="77.82" width="3.20" height="4.10" fill="#6b75b6"/><rect x="407.30" y="77.82" width="1.70" height="4.10" fill="#6b75b6"/><rect x="410.70" y="77.82" width="12.60" height="4.10" fill="#6b75b6"/><rect x="426.70" y="77.82" width="5.10" height="4.10" fill="#6b75b6"/><rect x="435.80" y="77.82" width="1.80" height="4.10" fill="#6b75b6"/><rect x="441.60" y="77.82" width="13.10" height="4.10" fill="#6b75b6"/><rect x="455.80" y="77.82" width="1.70" height="4.10" fill="#6b75b6"/><rect x="458.70" y="77.82" width="5.10" height="4.10" fill="#6b75b6"/><rect x="466.10" y="77.82" width="3.10" height="4.10" fill="#6b75b6"/><rect x="39.80" y="84.60" width="1.90" height="8.45" fill="#c49a52"/><rect x="41.70" y="84.60" width="2.00" height="8.45" fill="#1e1e1e"/><rect x="48.80" y="84.60" width="1.30" height="8.45" fill="#1e1e1e"/><rect x="50.10" y="84.60" width="2.60" height="8.45" fill="#c49a52"/><rect x="68.80" y="84.60" width="1.90" height="8.45" fill="#1e1e1e"/><rect x="70.70" y="84.60" width="1.30" height="8.45" fill="#c49a52"/><rect x="72.00" y="84.60" width="2.00" height="8.45" fill="#1e1e1e"/><rect x="82.30" y="84.60" width="2.00" height="8.45" fill="#adadad"/><rect x="147.40" y="84.60" width="1.90" height="8.45" fill="#1e1e1e"/><rect x="187.20" y="84.60" width="4.80" height="8.45" fill="#e8923a"/><rect x="199.40" y="84.60" width="3.40" height="8.45" fill="#c49a52"/><rect x="233.10" y="84.60" width="1.70" height="8.45" fill="#1e1e1e"/><rect x="236.50" y="84.60" width="2.10" height="8.45" fill="#1e1e1e"/><rect x="285.50" y="84.60" width="1.80" height="8.45" fill="#1e1e1e"/><rect x="287.30" y="84.60" width="1.70" height="8.45" fill="#c4dca0"/><rect x="355.30" y="84.60" width="1.90" height="8.45" fill="#c49a52"/><rect x="368.20" y="84.60" width="1.60" height="8.45" fill="#cfc25a"/><rect x="380.80" y="84.60" width="1.30" height="8.45" fill="#1e1e1e"/><rect x="394.90" y="84.60" width="3.20" height="8.45" fill="#1e1e1e"/><rect x="439.30" y="84.60" width="1.70" height="8.45" fill="#1e1e1e"/><rect x="49.20" y="94.20" width="1.30" height="4.10" fill="#6b75b6"/><rect x="69.00" y="94.20" width="1.30" height="4.10" fill="#6b75b6"/><rect x="75.90" y="94.20" width="1.90" height="4.10" fill="#a4506e"/><rect x="102.30" y="94.20" width="1.90" height="4.10" fill="#6b75b6"/><rect x="105.50" y="94.20" width="1.90" height="4.10" fill="#6b75b6"/><rect x="139.70" y="94.20" width="1.90" height="4.10" fill="#6b75b6"/><rect x="143.50" y="94.20" width="2.00" height="4.10" fill="#6b75b6"/><rect x="178.00" y="94.20" width="1.40" height="4.10" fill="#6b75b6"/><rect x="188.90" y="94.20" width="1.10" height="4.10" fill="#6b75b6"/><rect x="197.50" y="94.20" width="1.30" height="4.10" fill="#6b75b6"/><rect x="228.00" y="94.20" width="1.50" height="4.10" fill="#6b75b6"/><rect x="237.10" y="94.20" width="2.90" height="4.10" fill="#6b75b6"/><rect x="256.90" y="94.20" width="3.10" height="4.10" fill="#6b75b6"/><rect x="351.70" y="94.20" width="3.20" height="4.10" fill="#6b75b6"/><rect x="442.70" y="94.20" width="1.70" height="4.10" fill="#6b75b6"/><rect x="35.00" y="100.98" width="1.80" height="8.45" fill="#6f58a8"/><rect x="52.70" y="100.98" width="1.30" height="8.45" fill="#6f58a8"/><rect x="68.50" y="100.98" width="1.60" height="8.45" fill="#1e1e1e"/><rect x="74.00" y="100.98" width="1.90" height="8.45" fill="#1e1e1e"/><rect x="169.20" y="100.98" width="1.30" height="8.45" fill="#6f58a8"/><rect x="192.20" y="100.98" width="1.80" height="8.45" fill="#6f58a8"/><rect x="203.20" y="100.98" width="1.60" height="8.45" fill="#6f58a8"/><rect x="234.80" y="100.98" width="2.30" height="8.45" fill="#c49a52"/><rect x="237.70" y="100.98" width="1.70" height="8.45" fill="#cfc25a"/><rect x="240.00" y="100.98" width="1.70" height="8.45" fill="#1e1e1e"/><rect x="269.60" y="100.98" width="1.30" height="8.45" fill="#6f58a8"/><rect x="277.00" y="100.98" width="1.50" height="8.45" fill="#6f58a8"/><rect x="287.30" y="100.98" width="1.70" height="8.45" fill="#adadad"/><rect x="312.00" y="100.98" width="2.00" height="8.45" fill="#c49a52"/><rect x="369.80" y="100.98" width="1.50" height="8.45" fill="#a49cc0"/><rect x="382.40" y="100.98" width="1.40" height="8.45" fill="#1e1e1e"/><rect x="394.90" y="100.98" width="1.20" height="8.45" fill="#6f58a8"/><rect x="398.70" y="100.98" width="1.70" height="8.45" fill="#1e1e1e"/><rect x="400.40" y="100.98" width="1.40" height="8.45" fill="#6f58a8"/><rect x="39.80" y="110.58" width="1.30" height="4.10" fill="#6b75b6"/><rect x="49.20" y="110.58" width="1.30" height="4.10" fill="#6b75b6"/><rect x="104.20" y="110.58" width="2.00" height="4.10" fill="#6b75b6"/><rect x="115.20" y="110.58" width="1.90" height="4.10" fill="#6b75b6"/><rect x="140.30" y="110.58" width="1.90" height="4.10" fill="#6b75b6"/><rect x="189.10" y="110.58" width="2.90" height="4.10" fill="#6b75b6"/><rect x="200.00" y="110.58" width="4.80" height="4.10" fill="#6b75b6"/><rect x="282.10" y="110.58" width="2.90" height="4.10" fill="#6b75b6"/><rect x="310.70" y="110.58" width="1.30" height="4.10" fill="#6b75b6"/><rect x="355.30" y="110.58" width="1.90" height="4.10" fill="#6b75b6"/><rect x="369.80" y="110.58" width="1.50" height="4.10" fill="#6b75b6"/><rect x="393.30" y="110.58" width="1.40" height="4.10" fill="#6b75b6"/><rect x="414.70" y="110.58" width="1.50" height="4.10" fill="#6b75b6"/><rect x="458.70" y="110.58" width="1.90" height="4.10" fill="#6b75b6"/><rect x="39.80" y="117.36" width="2.20" height="8.45" fill="#ecc08e"/><rect x="52.70" y="117.36" width="1.70" height="8.45" fill="#1e1e1e"/><rect x="75.90" y="117.36" width="1.90" height="8.45" fill="#1e1e1e"/><rect x="82.70" y="117.36" width="1.80" height="8.45" fill="#adadad"/><rect x="105.90" y="117.36" width="1.80" height="8.45" fill="#1e1e1e"/><rect x="180.00" y="117.36" width="1.10" height="8.45" fill="#adadad"/><rect x="204.80" y="117.36" width="1.40" height="8.45" fill="#1e1e1e"/><rect x="240.90" y="117.36" width="1.40" height="8.45" fill="#e8923a"/><rect x="258.50" y="117.36" width="1.50" height="8.45" fill="#adadad"/><rect x="266.20" y="117.36" width="1.30" height="8.45" fill="#c49a52"/><rect x="316.00" y="117.36" width="2.80" height="8.45" fill="#cfc25a"/><rect x="383.80" y="117.36" width="4.00" height="8.45" fill="#404040"/><rect x="398.10" y="117.36" width="1.70" height="8.45" fill="#e8923a"/><rect x="429.00" y="117.36" width="2.80" height="8.45" fill="#8dc63f"/><rect x="441.00" y="117.36" width="1.70" height="8.45" fill="#1e1e1e"/><rect x="39.80" y="126.96" width="1.90" height="4.10" fill="#6b75b6"/><rect x="45.60" y="126.96" width="2.60" height="4.10" fill="#6b75b6"/><rect x="52.70" y="126.96" width="1.70" height="4.10" fill="#6b75b6"/><rect x="74.00" y="126.96" width="1.50" height="4.10" fill="#6b75b6"/><rect x="99.00" y="126.96" width="2.00" height="4.10" fill="#6b75b6"/><rect x="114.90" y="126.96" width="1.80" height="4.10" fill="#6b75b6"/><rect x="120.30" y="126.96" width="1.60" height="4.10" fill="#6b75b6"/><rect x="174.30" y="126.96" width="1.50" height="4.10" fill="#7a7aa8"/><rect x="190.30" y="126.96" width="5.10" height="4.10" fill="#6b75b6"/><rect x="197.70" y="126.96" width="1.30" height="4.10" fill="#6b75b6"/><rect x="200.90" y="126.96" width="1.60" height="4.10" fill="#6b75b6"/><rect x="226.00" y="126.96" width="1.40" height="4.10" fill="#6b75b6"/><rect x="235.20" y="126.96" width="1.60" height="4.10" fill="#6b75b6"/><rect x="238.80" y="126.96" width="2.90" height="4.10" fill="#6b75b6"/><rect x="260.00" y="126.96" width="1.40" height="4.10" fill="#6b75b6"/><rect x="269.60" y="126.96" width="1.10" height="4.10" fill="#6b75b6"/><rect x="276.40" y="126.96" width="1.40" height="4.10" fill="#6b75b6"/><rect x="281.90" y="126.96" width="1.40" height="4.10" fill="#6b75b6"/><rect x="303.20" y="126.96" width="1.50" height="4.10" fill="#6b75b6"/><rect x="310.40" y="126.96" width="3.10" height="4.10" fill="#6b75b6"/><rect x="355.10" y="126.96" width="1.70" height="4.10" fill="#6b75b6"/><rect x="370.10" y="126.96" width="4.60" height="4.10" fill="#6b75b6"/><rect x="387.80" y="126.96" width="1.40" height="4.10" fill="#6b75b6"/><rect x="394.50" y="126.96" width="1.60" height="4.10" fill="#6b75b6"/><rect x="398.10" y="126.96" width="1.70" height="4.10" fill="#6b75b6"/><rect x="407.30" y="126.96" width="1.70" height="4.10" fill="#6b75b6"/><rect x="429.00" y="126.96" width="2.80" height="4.10" fill="#6b75b6"/><rect x="445.00" y="126.96" width="1.10" height="4.10" fill="#6b75b6"/><rect x="108.10" y="133.74" width="1.70" height="8.45" fill="#cfc25a"/><rect x="152.50" y="133.74" width="1.30" height="8.45" fill="#cfc25a"/><rect x="176.00" y="133.74" width="1.70" height="8.45" fill="#e8923a"/><rect x="177.70" y="133.74" width="2.30" height="8.45" fill="#6f58a8"/><rect x="186.50" y="133.74" width="1.50" height="8.45" fill="#cfc25a"/><rect x="206.80" y="133.74" width="1.40" height="8.45" fill="#8dc63f"/><rect x="235.20" y="133.74" width="1.60" height="8.45" fill="#adadad"/><rect x="240.50" y="133.74" width="1.50" height="8.45" fill="#8dc63f"/><rect x="289.00" y="133.74" width="1.30" height="8.45" fill="#8dc63f"/><rect x="316.00" y="133.74" width="1.40" height="8.45" fill="#c49a52"/><rect x="371.60" y="133.74" width="1.60" height="8.45" fill="#c49a52"/><rect x="402.10" y="133.74" width="3.40" height="8.45" fill="#c49a52"/><rect x="428.40" y="133.74" width="1.70" height="8.45" fill="#404040"/><rect x="448.40" y="133.74" width="1.70" height="8.45" fill="#adadad"/><rect x="459.30" y="133.74" width="2.80" height="8.45" fill="#404040"/><rect x="39.80" y="143.34" width="1.90" height="4.10" fill="#6b75b6"/><rect x="48.80" y="143.34" width="1.70" height="4.10" fill="#6b75b6"/><rect x="74.00" y="143.34" width="1.50" height="4.10" fill="#6b75b6"/><rect x="102.30" y="143.34" width="1.90" height="4.10" fill="#6b75b6"/><rect x="105.90" y="143.34" width="1.80" height="4.10" fill="#6b75b6"/><rect x="113.20" y="143.34" width="1.70" height="4.10" fill="#6b75b6"/><rect x="120.30" y="143.34" width="3.90" height="4.10" fill="#6b75b6"/><rect x="134.80" y="143.34" width="1.60" height="4.10" fill="#6b75b6"/><rect x="137.70" y="143.34" width="2.00" height="4.10" fill="#6b75b6"/><rect x="145.50" y="143.34" width="1.60" height="4.10" fill="#6b75b6"/><rect x="152.50" y="143.34" width="1.60" height="4.10" fill="#6b75b6"/><rect x="155.80" y="143.34" width="1.90" height="4.10" fill="#6b75b6"/><rect x="161.60" y="143.34" width="1.50" height="4.10" fill="#6b75b6"/><rect x="169.20" y="143.34" width="1.10" height="4.10" fill="#6b75b6"/><rect x="174.30" y="143.34" width="1.50" height="4.10" fill="#6b75b6"/><rect x="184.90" y="143.34" width="1.40" height="4.10" fill="#6b75b6"/><rect x="192.00" y="143.34" width="3.40" height="4.10" fill="#6b75b6"/><rect x="197.70" y="143.34" width="1.30" height="4.10" fill="#6b75b6"/><rect x="200.90" y="143.34" width="1.60" height="4.10" fill="#6b75b6"/><rect x="226.00" y="143.34" width="1.40" height="4.10" fill="#6b75b6"/><rect x="236.80" y="143.34" width="1.50" height="4.10" fill="#6b75b6"/><rect x="251.40" y="143.34" width="4.60" height="4.10" fill="#6b75b6"/><rect x="258.20" y="143.34" width="1.80" height="4.10" fill="#6b75b6"/><rect x="274.70" y="143.34" width="1.50" height="4.10" fill="#6b75b6"/><rect x="283.80" y="143.34" width="1.50" height="4.10" fill="#6b75b6"/><rect x="291.00" y="143.34" width="3.10" height="4.10" fill="#6b75b6"/><rect x="301.30" y="143.34" width="1.60" height="4.10" fill="#6b75b6"/><rect x="310.40" y="143.34" width="1.60" height="4.10" fill="#6b75b6"/><rect x="316.00" y="143.34" width="2.80" height="4.10" fill="#6b75b6"/><rect x="324.80" y="143.34" width="1.50" height="4.10" fill="#6b75b6"/><rect x="328.30" y="143.34" width="1.70" height="4.10" fill="#6b75b6"/><rect x="342.80" y="143.34" width="1.50" height="4.10" fill="#6b75b6"/><rect x="351.70" y="143.34" width="2.50" height="4.10" fill="#6b75b6"/><rect x="358.70" y="143.34" width="1.50" height="4.10" fill="#6b75b6"/><rect x="362.50" y="143.34" width="1.50" height="4.10" fill="#6b75b6"/><rect x="393.00" y="143.34" width="1.70" height="4.10" fill="#6b75b6"/><rect x="396.40" y="143.34" width="3.40" height="4.10" fill="#6b75b6"/><rect x="435.80" y="143.34" width="1.50" height="4.10" fill="#6b75b6"/><rect x="75.90" y="150.12" width="1.90" height="8.45" fill="#1e1e1e"/><rect x="116.70" y="150.12" width="1.70" height="8.45" fill="#1e1e1e"/><rect x="153.80" y="150.12" width="6.20" height="8.45" fill="#404040"/><rect x="242.00" y="150.12" width="1.60" height="8.45" fill="#1e1e1e"/><rect x="291.00" y="150.12" width="1.60" height="8.45" fill="#1e1e1e"/><rect x="330.00" y="150.12" width="2.00" height="8.45" fill="#1e1e1e"/><rect x="358.70" y="150.12" width="1.50" height="8.45" fill="#1e1e1e"/><rect x="418.10" y="150.12" width="1.40" height="8.45" fill="#adadad"/><rect x="439.30" y="150.12" width="1.70" height="8.45" fill="#adadad"/><rect x="142.00" y="159.72" width="1.50" height="4.10" fill="#a4506e"/><rect x="176.00" y="159.72" width="1.70" height="4.10" fill="#a4506e"/><rect x="226.00" y="159.72" width="1.40" height="4.10" fill="#a4506e"/><rect x="252.80" y="159.72" width="1.40" height="4.10" fill="#a4506e"/><rect x="283.80" y="159.72" width="1.50" height="4.10" fill="#a4506e"/><rect x="313.50" y="159.72" width="2.20" height="4.10" fill="#7a7aa8"/><rect x="319.70" y="159.72" width="2.90" height="4.10" fill="#a4506e"/><rect x="328.30" y="159.72" width="1.50" height="4.10" fill="#a4506e"/><rect x="387.80" y="159.72" width="1.40" height="4.10" fill="#a4506e"/><rect x="399.80" y="159.72" width="1.80" height="4.10" fill="#a4506e"/><rect x="118.80" y="166.50" width="3.10" height="8.45" fill="#e8923a"/><rect x="290.70" y="166.50" width="2.30" height="8.45" fill="#1e1e1e"/><rect x="332.00" y="166.50" width="1.60" height="8.45" fill="#c49a52"/><rect x="350.00" y="166.50" width="1.10" height="8.45" fill="#adadad"/><rect x="443.00" y="166.50" width="1.60" height="8.45" fill="#1e1e1e"/><rect x="59.80" y="176.10" width="1.50" height="4.10" fill="#6b75b6"/><rect x="120.30" y="176.10" width="1.60" height="4.10" fill="#6b75b6"/><rect x="140.30" y="176.10" width="6.40" height="4.10" fill="#6b75b6"/><rect x="174.30" y="176.10" width="1.50" height="4.10" fill="#6b75b6"/><rect x="184.90" y="176.10" width="1.40" height="4.10" fill="#6b75b6"/><rect x="197.50" y="176.10" width="3.60" height="4.10" fill="#6b75b6"/><rect x="202.80" y="176.10" width="1.70" height="4.10" fill="#6b75b6"/><rect x="228.00" y="176.10" width="1.50" height="4.10" fill="#6b75b6"/><rect x="240.50" y="176.10" width="1.50" height="4.10" fill="#6b75b6"/><rect x="252.80" y="176.10" width="1.40" height="4.10" fill="#6b75b6"/><rect x="315.70" y="176.10" width="1.50" height="4.10" fill="#6b75b6"/><rect x="327.90" y="176.10" width="1.50" height="4.10" fill="#6b75b6"/><rect x="351.70" y="176.10" width="1.30" height="4.10" fill="#6b75b6"/><rect x="355.10" y="176.10" width="1.70" height="4.10" fill="#6b75b6"/><rect x="383.80" y="176.10" width="1.80" height="4.10" fill="#6b75b6"/><rect x="74.20" y="182.88" width="1.70" height="8.45" fill="#1e1e1e"/><rect x="152.50" y="182.88" width="1.60" height="8.45" fill="#1e1e1e"/><rect x="194.00" y="182.88" width="1.60" height="8.45" fill="#1e1e1e"/><rect x="258.00" y="182.88" width="1.60" height="8.45" fill="#adadad"/><rect x="269.30" y="182.88" width="1.40" height="8.45" fill="#e8923a"/><rect x="330.00" y="182.88" width="1.70" height="8.45" fill="#1e1e1e"/><rect x="405.90" y="182.88" width="1.40" height="8.45" fill="#1e1e1e"/><rect x="40.20" y="192.48" width="1.50" height="4.10" fill="#6b75b6"/><rect x="49.20" y="192.48" width="1.30" height="4.10" fill="#6b75b6"/><rect x="65.60" y="192.48" width="1.30" height="4.10" fill="#6b75b6"/><rect x="75.90" y="192.48" width="1.90" height="4.10" fill="#a4506e"/><rect x="102.30" y="192.48" width="1.50" height="4.10" fill="#6b75b6"/><rect x="105.90" y="192.48" width="1.50" height="4.10" fill="#6b75b6"/><rect x="122.30" y="192.48" width="1.60" height="4.10" fill="#6b75b6"/><rect x="134.80" y="192.48" width="1.20" height="4.10" fill="#6b75b6"/><rect x="143.50" y="192.48" width="3.20" height="4.10" fill="#6b75b6"/><rect x="152.50" y="192.48" width="1.60" height="4.10" fill="#6b75b6"/><rect x="169.20" y="192.48" width="1.10" height="4.10" fill="#6b75b6"/><rect x="178.00" y="192.48" width="1.40" height="4.10" fill="#6b75b6"/><rect x="186.80" y="192.48" width="7.20" height="4.10" fill="#6b75b6"/><rect x="197.50" y="192.48" width="3.60" height="4.10" fill="#6b75b6"/><rect x="202.80" y="192.48" width="1.70" height="4.10" fill="#6b75b6"/><rect x="226.00" y="192.48" width="1.40" height="4.10" fill="#6b75b6"/><rect x="240.50" y="192.48" width="1.50" height="4.10" fill="#6b75b6"/><rect x="244.00" y="192.48" width="1.50" height="4.10" fill="#6b75b6"/><rect x="251.20" y="192.48" width="4.80" height="4.10" fill="#6b75b6"/><rect x="269.30" y="192.48" width="1.40" height="4.10" fill="#6b75b6"/><rect x="274.70" y="192.48" width="1.50" height="4.10" fill="#6b75b6"/><rect x="282.10" y="192.48" width="3.40" height="4.10" fill="#6b75b6"/><rect x="291.00" y="192.48" width="1.40" height="4.10" fill="#6b75b6"/><rect x="303.60" y="192.48" width="1.40" height="4.10" fill="#6b75b6"/><rect x="310.70" y="192.48" width="2.30" height="4.10" fill="#6b75b6"/><rect x="317.40" y="192.48" width="1.70" height="4.10" fill="#6b75b6"/><rect x="353.40" y="192.48" width="3.40" height="4.10" fill="#6b75b6"/><rect x="370.10" y="192.48" width="3.50" height="4.10" fill="#6b75b6"/><rect x="387.80" y="192.48" width="1.40" height="4.10" fill="#6b75b6"/><rect x="393.00" y="192.48" width="1.50" height="4.10" fill="#6b75b6"/><rect x="398.10" y="192.48" width="1.40" height="4.10" fill="#6b75b6"/><rect x="409.50" y="192.48" width="2.60" height="4.10" fill="#6b75b6"/><rect x="418.10" y="192.48" width="3.50" height="4.10" fill="#6b75b6"/><rect x="426.70" y="192.48" width="3.40" height="4.10" fill="#6b75b6"/><rect x="445.00" y="192.48" width="1.10" height="4.10" fill="#6b75b6"/><rect x="459.00" y="192.48" width="1.60" height="4.10" fill="#6b75b6"/><rect x="122.30" y="199.26" width="1.60" height="8.45" fill="#6f58a8"/><rect x="208.50" y="199.26" width="1.50" height="8.45" fill="#6f58a8"/><rect x="291.00" y="199.26" width="1.40" height="8.45" fill="#6f58a8"/><rect x="407.30" y="199.26" width="1.70" height="8.45" fill="#a49cc0"/><rect x="439.30" y="199.26" width="1.70" height="8.45" fill="#adadad"/><rect x="40.20" y="208.86" width="1.50" height="4.10" fill="#a4506e"/><rect x="66.90" y="208.86" width="1.60" height="4.10" fill="#a4506e"/><rect x="79.40" y="208.86" width="1.60" height="4.10" fill="#a4506e"/><rect x="124.20" y="208.86" width="1.50" height="4.10" fill="#a4506e"/><rect x="136.80" y="208.86" width="1.60" height="4.10" fill="#a4506e"/><rect x="151.00" y="208.86" width="1.50" height="4.10" fill="#a4506e"/><rect x="192.00" y="208.86" width="6.80" height="4.10" fill="#ad4264"/><rect x="208.50" y="208.86" width="1.50" height="4.10" fill="#a4506e"/><rect x="218.90" y="208.86" width="1.70" height="4.10" fill="#a4506e"/><rect x="226.00" y="208.86" width="1.40" height="4.10" fill="#a4506e"/><rect x="231.40" y="208.86" width="1.50" height="4.10" fill="#a4506e"/><rect x="234.80" y="208.86" width="3.10" height="4.10" fill="#a4506e"/><rect x="244.00" y="208.86" width="1.50" height="4.10" fill="#a4506e"/><rect x="256.50" y="208.86" width="1.70" height="4.10" fill="#a4506e"/><rect x="260.00" y="208.86" width="1.70" height="4.10" fill="#a4506e"/><rect x="271.30" y="208.86" width="1.50" height="4.10" fill="#a4506e"/><rect x="274.70" y="208.86" width="1.50" height="4.10" fill="#a4506e"/><rect x="278.50" y="208.86" width="1.30" height="4.10" fill="#a4506e"/><rect x="283.80" y="208.86" width="1.50" height="4.10" fill="#a4506e"/><rect x="296.40" y="208.86" width="1.50" height="4.10" fill="#a4506e"/><rect x="303.60" y="208.86" width="1.40" height="4.10" fill="#a4506e"/><rect x="362.50" y="208.86" width="1.50" height="4.10" fill="#7a7aa8"/><rect x="387.80" y="208.86" width="1.40" height="4.10" fill="#a4506e"/><rect x="396.40" y="208.86" width="1.70" height="4.10" fill="#a4506e"/><rect x="401.60" y="208.86" width="1.70" height="4.10" fill="#a4506e"/><rect x="407.30" y="208.86" width="1.70" height="4.10" fill="#a4506e"/><rect x="425.60" y="208.86" width="1.50" height="4.10" fill="#a4506e"/><rect x="439.30" y="208.86" width="6.80" height="4.10" fill="#ad4264"/><rect x="461.00" y="208.86" width="1.50" height="4.10" fill="#a4506e"/><path d="M37.50 19.08V27.53M40.20 19.08V27.53M42.89 19.08V27.53M45.59 19.08V27.53M48.29 19.08V27.53M50.99 19.08V27.53M53.69 19.08V27.53M56.38 19.08V27.53M59.08 19.08V27.53M61.78 19.08V27.53M64.48 19.08V27.53M67.18 19.08V27.53M69.87 19.08V27.53M72.57 19.08V27.53M75.27 19.08V27.53M77.97 19.08V27.53M80.67 19.08V27.53M83.36 19.08V27.53M86.06 19.08V27.53M88.76 19.08V27.53M91.46 19.08V27.53M94.16 19.08V27.53M96.85 19.08V27.53M99.55 19.08V27.53M102.25 19.08V27.53M104.95 19.08V27.53M107.64 19.08V27.53M110.34 19.08V27.53M113.04 19.08V27.53M115.74 19.08V27.53M118.44 19.08V27.53M121.13 19.08V27.53M123.83 19.08V27.53M126.53 19.08V27.53M129.23 19.08V27.53M131.93 19.08V27.53M134.62 19.08V27.53M137.32 19.08V27.53M140.02 19.08V27.53M142.72 19.08V27.53M145.42 19.08V27.53M171.90 19.08V27.53M174.59 19.08V27.53M177.29 19.08V27.53M179.99 19.08V27.53M182.69 19.08V27.53M185.38 19.08V27.53M188.08 19.08V27.53M190.78 19.08V27.53M193.47 19.08V27.53M196.17 19.08V27.53M198.87 19.08V27.53M201.57 19.08V27.53M204.26 19.08V27.53M206.96 19.08V27.53M209.66 19.08V27.53M212.35 19.08V27.53M215.05 19.08V27.53M217.75 19.08V27.53M220.45 19.08V27.53M223.14 19.08V27.53M225.84 19.08V27.53M228.54 19.08V27.53M231.23 19.08V27.53M233.93 19.08V27.53M236.63 19.08V27.53M239.33 19.08V27.53M242.02 19.08V27.53M244.72 19.08V27.53M247.42 19.08V27.53M250.11 19.08V27.53M252.81 19.08V27.53M255.51 19.08V27.53M268.92 19.08V27.53M271.63 19.08V27.53M274.35 19.08V27.53M277.07 19.08V27.53M279.78 19.08V27.53M282.50 19.08V27.53M285.22 19.08V27.53M287.93 19.08V27.53M290.65 19.08V27.53M293.37 19.08V27.53M296.08 19.08V27.53M298.80 19.08V27.53M301.52 19.08V27.53M304.23 19.08V27.53M306.95 19.08V27.53M309.67 19.08V27.53M312.38 19.08V27.53M315.10 19.08V27.53M317.82 19.08V27.53M320.53 19.08V27.53M323.25 19.08V27.53M325.97 19.08V27.53M328.68 19.08V27.53M331.40 19.08V27.53M334.12 19.08V27.53M336.83 19.08V27.53M339.55 19.08V27.53M342.27 19.08V27.53M344.98 19.08V27.53M347.70 19.08V27.53M350.42 19.08V27.53M353.13 19.08V27.53M368.81 19.08V27.53M371.53 19.08V27.53M374.24 19.08V27.53M376.95 19.08V27.53M379.67 19.08V27.53M382.38 19.08V27.53M385.09 19.08V27.53M387.81 19.08V27.53M390.52 19.08V27.53M393.23 19.08V27.53M395.94 19.08V27.53M398.66 19.08V27.53M401.37 19.08V27.53M404.08 19.08V27.53M406.80 19.08V27.53M409.51 19.08V27.53M412.22 19.08V27.53M414.94 19.08V27.53M417.65 19.08V27.53M420.36 19.08V27.53M423.08 19.08V27.53M425.79 19.08V27.53M428.50 19.08V27.53M431.22 19.08V27.53M433.93 19.08V27.53M436.64 19.08V27.53M439.36 19.08V27.53M442.07 19.08V27.53M444.78 19.08V27.53M447.49 19.08V27.53M450.21 19.08V27.53M452.92 19.08V27.53M455.63 19.08V27.53M458.35 19.08V27.53M88.76 28.68V32.78M142.72 28.68V32.78M145.42 28.68V32.78M182.69 28.68V32.78M185.38 28.68V32.78M37.50 35.46V43.91M40.20 35.46V43.91M42.89 35.46V43.91M45.59 35.46V43.91M48.29 35.46V43.91M50.99 35.46V43.91M53.69 35.46V43.91M56.38 35.46V43.91M59.08 35.46V43.91M61.78 35.46V43.91M64.48 35.46V43.91M67.18 35.46V43.91M69.87 35.46V43.91M72.57 35.46V43.91M75.27 35.46V43.91M77.97 35.46V43.91M80.67 35.46V43.91M83.36 35.46V43.91M86.06 35.46V43.91M88.76 35.46V43.91M91.46 35.46V43.91M94.16 35.46V43.91M96.85 35.46V43.91M99.55 35.46V43.91M102.25 35.46V43.91M104.95 35.46V43.91M110.34 35.46V43.91M115.74 35.46V43.91M118.44 35.46V43.91M121.13 35.46V43.91M126.53 35.46V43.91M129.23 35.46V43.91M131.93 35.46V43.91M140.02 35.46V43.91M142.72 35.46V43.91M148.11 35.46V43.91M150.81 35.46V43.91M171.90 35.46V43.91M174.59 35.46V43.91M177.29 35.46V43.91M179.99 35.46V43.91M182.69 35.46V43.91M185.38 35.46V43.91M188.08 35.46V43.91M190.78 35.46V43.91M193.47 35.46V43.91M196.17 35.46V43.91M198.87 35.46V43.91M201.57 35.46V43.91M204.26 35.46V43.91M206.96 35.46V43.91M209.66 35.46V43.91M212.35 35.46V43.91M215.05 35.46V43.91M217.75 35.46V43.91M220.45 35.46V43.91M223.14 35.46V43.91M225.84 35.46V43.91M228.54 35.46V43.91M233.93 35.46V43.91M236.63 35.46V43.91M244.72 35.46V43.91M247.42 35.46V43.91M255.51 35.46V43.91M260.90 35.46V43.91M268.92 35.46V43.91M271.63 35.46V43.91M274.35 35.46V43.91M277.07 35.46V43.91M279.78 35.46V43.91M282.50 35.46V43.91M285.22 35.46V43.91M287.93 35.46V43.91M290.65 35.46V43.91M293.37 35.46V43.91M296.08 35.46V43.91M298.80 35.46V43.91M301.52 35.46V43.91M304.23 35.46V43.91M306.95 35.46V43.91M309.67 35.46V43.91M336.83 35.46V43.91M339.55 35.46V43.91M368.81 35.46V43.91M371.53 35.46V43.91M374.24 35.46V43.91M376.95 35.46V43.91M379.67 35.46V43.91M382.38 35.46V43.91M385.09 35.46V43.91M387.81 35.46V43.91M390.52 35.46V43.91M393.23 35.46V43.91M395.94 35.46V43.91M398.66 35.46V43.91M401.37 35.46V43.91M404.08 35.46V43.91M406.80 35.46V43.91M409.51 35.46V43.91M412.22 35.46V43.91M414.94 35.46V43.91M417.65 35.46V43.91M420.36 35.46V43.91M423.08 35.46V43.91M425.79 35.46V43.91M433.93 35.46V43.91M436.64 35.46V43.91M447.49 35.46V43.91M455.63 35.46V43.91M461.06 35.46V43.91M463.77 35.46V43.91M466.49 35.46V43.91M37.50 45.06V49.16M40.20 45.06V49.16M48.29 45.06V49.16M104.95 45.06V49.16M121.13 45.06V49.16M140.02 45.06V49.16M190.78 45.06V49.16M193.47 45.06V49.16M196.17 45.06V49.16M228.54 45.06V49.16M252.81 45.06V49.16M255.51 45.06V49.16M282.50 45.06V49.16M312.38 45.06V49.16M353.13 45.06V49.16M355.85 45.06V49.16M371.53 45.06V49.16M374.24 45.06V49.16M395.94 45.06V49.16M398.66 45.06V49.16M428.50 45.06V49.16M431.22 45.06V49.16M37.50 51.84V60.29M40.20 51.84V60.29M42.89 51.84V60.29M45.59 51.84V60.29M48.29 51.84V60.29M107.64 51.84V60.29M110.34 51.84V60.29M113.04 51.84V60.29M115.74 51.84V60.29M126.53 51.84V60.29M153.51 51.84V60.29M171.90 51.84V60.29M174.59 51.84V60.29M177.29 51.84V60.29M179.99 51.84V60.29M182.69 51.84V60.29M185.38 51.84V60.29M268.92 51.84V60.29M271.63 51.84V60.29M274.35 51.84V60.29M312.38 51.84V60.29M315.10 51.84V60.29M317.82 51.84V60.29M320.53 51.84V60.29M323.25 51.84V60.29M325.97 51.84V60.29M328.68 51.84V60.29M368.81 51.84V60.29M371.53 51.84V60.29M374.24 51.84V60.29M376.95 51.84V60.29M379.67 51.84V60.29M431.22 51.84V60.29M433.93 51.84V60.29M436.64 51.84V60.29M37.50 61.44V65.54M40.20 61.44V65.54M42.89 61.44V65.54M45.59 61.44V65.54M48.29 61.44V65.54M53.69 61.44V65.54M56.38 61.44V65.54M67.18 61.44V65.54M69.87 61.44V65.54M94.16 61.44V65.54M102.25 61.44V65.54M104.95 61.44V65.54M115.74 61.44V65.54M121.13 61.44V65.54M123.83 61.44V65.54M142.72 61.44V65.54M145.42 61.44V65.54M188.08 61.44V65.54M190.78 61.44V65.54M193.47 61.44V65.54M196.17 61.44V65.54M201.57 61.44V65.54M225.84 61.44V65.54M228.54 61.44V65.54M236.63 61.44V65.54M239.33 61.44V65.54M244.72 61.44V65.54M247.42 61.44V65.54M282.50 61.44V65.54M285.22 61.44V65.54M309.67 61.44V65.54M312.38 61.44V65.54M315.10 61.44V65.54M317.82 61.44V65.54M347.70 61.44V65.54M350.42 61.44V65.54M353.13 61.44V65.54M355.85 61.44V65.54M358.57 61.44V65.54M371.53 61.44V65.54M374.24 61.44V65.54M379.67 61.44V65.54M382.38 61.44V65.54M387.81 61.44V65.54M390.52 61.44V65.54M393.23 61.44V65.54M395.94 61.44V65.54M398.66 61.44V65.54M401.37 61.44V65.54M412.22 61.44V65.54M414.94 61.44V65.54M417.65 61.44V65.54M428.50 61.44V65.54M431.22 61.44V65.54M450.21 61.44V65.54M37.50 68.22V76.67M50.99 68.22V76.67M53.69 68.22V76.67M56.38 68.22V76.67M59.08 68.22V76.67M61.78 68.22V76.67M64.48 68.22V76.67M67.18 68.22V76.67M171.90 68.22V76.67M174.59 68.22V76.67M193.47 68.22V76.67M196.17 68.22V76.67M233.93 68.22V76.67M236.63 68.22V76.67M279.78 68.22V76.67M282.50 68.22V76.67M285.22 68.22V76.67M312.38 68.22V76.67M315.10 68.22V76.67M382.38 68.22V76.67M385.09 68.22V76.67M387.81 68.22V76.67M390.52 68.22V76.67M393.23 68.22V76.67M37.50 77.82V81.92M40.20 77.82V81.92M42.89 77.82V81.92M48.29 77.82V81.92M53.69 77.82V81.92M69.87 77.82V81.92M72.57 77.82V81.92M86.06 77.82V81.92M88.76 77.82V81.92M91.46 77.82V81.92M94.16 77.82V81.92M96.85 77.82V81.92M99.55 77.82V81.92M102.25 77.82V81.92M104.95 77.82V81.92M107.64 77.82V81.92M110.34 77.82V81.92M113.04 77.82V81.92M115.74 77.82V81.92M118.44 77.82V81.92M121.13 77.82V81.92M123.83 77.82V81.92M126.53 77.82V81.92M131.93 77.82V81.92M137.32 77.82V81.92M142.72 77.82V81.92M145.42 77.82V81.92M156.21 77.82V81.92M158.91 77.82V81.92M188.08 77.82V81.92M190.78 77.82V81.92M193.47 77.82V81.92M196.17 77.82V81.92M198.87 77.82V81.92M201.57 77.82V81.92M209.66 77.82V81.92M212.35 77.82V81.92M215.05 77.82V81.92M217.75 77.82V81.92M223.14 77.82V81.92M225.84 77.82V81.92M228.54 77.82V81.92M239.33 77.82V81.92M242.02 77.82V81.92M252.81 77.82V81.92M255.51 77.82V81.92M274.35 77.82V81.92M282.50 77.82V81.92M285.22 77.82V81.92M287.93 77.82V81.92M290.65 77.82V81.92M296.08 77.82V81.92M301.52 77.82V81.92M304.23 77.82V81.92M309.67 77.82V81.92M312.38 77.82V81.92M315.10 77.82V81.92M325.97 77.82V81.92M328.68 77.82V81.92M344.98 77.82V81.92M350.42 77.82V81.92M353.13 77.82V81.92M355.85 77.82V81.92M361.28 77.82V81.92M374.24 77.82V81.92M412.22 77.82V81.92M414.94 77.82V81.92M417.65 77.82V81.92M420.36 77.82V81.92M428.50 77.82V81.92M431.22 77.82V81.92M442.07 77.82V81.92M444.78 77.82V81.92M447.49 77.82V81.92M450.21 77.82V81.92M452.92 77.82V81.92M461.06 77.82V81.92M40.20 84.60V93.05M42.89 84.60V93.05M50.99 84.60V93.05M69.87 84.60V93.05M72.57 84.60V93.05M188.08 84.60V93.05M190.78 84.60V93.05M201.57 84.60V93.05M287.93 84.60V93.05M395.94 84.60V93.05M201.57 110.58V114.68M204.26 110.58V114.68M190.78 126.96V131.06M193.47 126.96V131.06M371.53 126.96V131.06M374.24 126.96V131.06M177.29 133.74V142.19M404.08 133.74V142.19M121.13 143.34V147.44M123.83 143.34V147.44M193.47 143.34V147.44M252.81 143.34V147.44M255.51 143.34V147.44M398.66 143.34V147.44M142.72 176.10V180.20M145.42 176.10V180.20M198.87 176.10V180.20M188.08 192.48V196.58M190.78 192.48V196.58M193.47 192.48V196.58M198.87 192.48V196.58M252.81 192.48V196.58M255.51 192.48V196.58M282.50 192.48V196.58M355.85 192.48V196.58M371.53 192.48V196.58M420.36 192.48V196.58M428.50 192.48V196.58M193.47 208.86V212.96M196.17 208.86V212.96M442.07 208.86V212.96M444.78 208.86V212.96" stroke="#fff" stroke-width="0.7" stroke-opacity="0.55"/></g><line x1="32.3" y1="19" x2="32.3" y2="212.8" stroke="#b8bcc8" stroke-width="0.7"/><text x="253.80" y="219.40" font-size="7.43" text-anchor="middle" font-weight="normal" font-style="normal" fill="#1c1c1c" stroke="#1c1c1c" stroke-width="0.22">Samples</text><text x="474.80" y="25.90" font-size="7.55" text-anchor="start" font-weight="normal" font-style="normal" fill="#1c1c1c" stroke="#1c1c1c" stroke-width="0.22">SNV/INDEL</text><text x="474.80" y="34.60" font-size="7.55" text-anchor="start" font-weight="normal" font-style="normal" fill="#1c1c1c" stroke="#1c1c1c" stroke-width="0.22">Type</text><rect x="475.20" y="39.70" width="8" height="7.6" fill="#141414" stroke="#333" stroke-width="0.6"/><text x="484.60" y="46.00" font-size="7.55" text-anchor="start" font-weight="normal" font-style="normal" fill="#1c1c1c" stroke="#1c1c1c" stroke-width="0.22">Missense</text><rect x="475.20" y="48.90" width="8" height="7.6" fill="#84c247" stroke="#6a9a3a" stroke-width="0.6"/><text x="484.60" y="55.20" font-size="7.55" text-anchor="start" font-weight="normal" font-style="normal" fill="#1c1c1c" stroke="#1c1c1c" stroke-width="0.22">Nonsense</text><rect x="475.20" y="58.10" width="8" height="7.6" fill="#e07f2c" stroke="#a86228" stroke-width="0.6"/><text x="484.60" y="64.40" font-size="7.55" text-anchor="start" font-weight="normal" font-style="normal" fill="#1c1c1c" stroke="#1c1c1c" stroke-width="0.22">Frameshift</text><rect x="475.20" y="76.50" width="8" height="7.6" fill="#6a50a2" stroke="#54408a" stroke-width="0.6"/><text x="484.60" y="82.80" font-size="7.55" text-anchor="start" font-weight="normal" font-style="normal" fill="#1c1c1c" stroke="#1c1c1c" stroke-width="0.22">Inframe</text><rect x="475.20" y="94.90" width="8" height="7.6" fill="#8f8f8f" stroke="#777" stroke-width="0.6"/><text x="484.60" y="101.20" font-size="7.55" text-anchor="start" font-weight="normal" font-style="normal" fill="#1c1c1c" stroke="#1c1c1c" stroke-width="0.22">Other</text><rect x="475.20" y="104.10" width="8" height="7.6" fill="#e4e4e4" stroke="#b4b4b4" stroke-width="0.6"/><text x="484.60" y="110.40" font-size="7.55" text-anchor="start" font-weight="normal" font-style="normal" fill="#1c1c1c" stroke="#1c1c1c" stroke-width="0.22">Wild type</text><text x="484.60" y="73.40" font-size="7.55" text-anchor="start" font-weight="normal" font-style="normal" fill="#1c1c1c" stroke="#1c1c1c" stroke-width="0.22">INDEL</text><text x="484.60" y="91.80" font-size="7.55" text-anchor="start" font-weight="normal" font-style="normal" fill="#1c1c1c" stroke="#1c1c1c" stroke-width="0.22">INDEL</text><text x="474.80" y="140.40" font-size="7.55" text-anchor="start" font-weight="normal" font-style="normal" fill="#1c1c1c" stroke="#1c1c1c" stroke-width="0.22">CNV type</text><rect x="475.20" y="143.20" width="7.6" height="7.4" fill="#b0384e" stroke="#8a2c3e" stroke-width="0.6"/><text x="484.60" y="149.40" font-size="7.55" text-anchor="start" font-weight="normal" font-style="normal" fill="#1c1c1c" stroke="#1c1c1c" stroke-width="0.22">Gain</text><rect x="475.20" y="152.20" width="7.6" height="7.4" fill="#4a68b8" stroke="#3a5296" stroke-width="0.6"/><text x="484.60" y="158.40" font-size="7.55" text-anchor="start" font-weight="normal" font-style="normal" fill="#1c1c1c" stroke="#1c1c1c" stroke-width="0.22">Loss</text><rect x="475.20" y="161.20" width="7.6" height="7.4" fill="#e8e8e8" stroke="#b8b8b8" stroke-width="0.6"/><text x="484.60" y="167.40" font-size="7.55" text-anchor="start" font-weight="normal" font-style="normal" fill="#1c1c1c" stroke="#1c1c1c" stroke-width="0.22">Neutral</text><text x="484.60" y="176.50" font-size="7.55" text-anchor="start" font-weight="normal" font-style="normal" fill="#1c1c1c" stroke="#1c1c1c" stroke-width="0.22">NA</text><text transform="translate(2.0,243.6) scale(0.86,1)" font-size="12.9" font-weight="bold" fill="#111" stroke="#111" stroke-width="0.45">B</text><rect x="33.40" y="248.50" width="153.00" height="19.10" fill="#f1f1f1"/><line x1="33.4" y1="310.50" x2="186.4" y2="310.50" stroke="#dcdcdc" stroke-width="0.6" stroke-dasharray="2.2,2.2"/><line x1="33.4" y1="348.20" x2="186.4" y2="348.20" stroke="#dcdcdc" stroke-width="0.6" stroke-dasharray="2.2,2.2"/><line x1="33.4" y1="385.90" x2="186.4" y2="385.90" stroke="#dcdcdc" stroke-width="0.6" stroke-dasharray="2.2,2.2"/><line x1="62.55" y1="293.53" x2="62.55" y2="413.80" stroke="#333" stroke-width="0.7"/><rect x="44.20" y="336.51" width="36.70" height="31.67" fill="#dfc3cb" stroke="#3a3a3a" stroke-width="0.8"/><line x1="44.20" y1="353.10" x2="80.90" y2="353.10" stroke="#2a1a1e" stroke-width="1.4"/><line x1="109.90" y1="289.76" x2="109.90" y2="389.67" stroke="#333" stroke-width="0.7"/><rect x="91.90" y="325.96" width="36.00" height="36.19" fill="#c67d8d" stroke="#3a3a3a" stroke-width="0.8"/><line x1="91.90" y1="345.94" x2="127.90" y2="345.94" stroke="#2a1a1e" stroke-width="1.4"/><line x1="157.55" y1="305.98" x2="157.55" y2="383.64" stroke="#333" stroke-width="0.7"/><rect x="139.40" y="319.55" width="36.30" height="26.39" fill="#a3163f" stroke="#3a3a3a" stroke-width="0.8"/><line x1="139.40" y1="331.61" x2="175.70" y2="331.61" stroke="#2a1a1e" stroke-width="1.4"/><g fill="#333" fill-opacity="0.9"><circle cx="62.78" cy="351.56" r="0.95"/><circle cx="66.71" cy="343.93" r="0.95"/><circle cx="58.02" cy="358.62" r="0.95"/><circle cx="57.85" cy="374.42" r="0.95"/><circle cx="57.75" cy="363.25" r="0.95"/><circle cx="60.08" cy="377.01" r="0.95"/><circle cx="60.04" cy="350.05" r="0.95"/><circle cx="59.43" cy="317.24" r="0.95"/><circle cx="63.22" cy="364.21" r="0.95"/><circle cx="57.94" cy="367.50" r="0.95"/><circle cx="63.45" cy="339.04" r="0.95"/><circle cx="59.21" cy="342.44" r="0.95"/><circle cx="64.33" cy="348.89" r="0.95"/><circle cx="57.76" cy="375.45" r="0.95"/><circle cx="60.66" cy="352.34" r="0.95"/><circle cx="66.93" cy="333.77" r="0.95"/><circle cx="62.93" cy="386.05" r="0.95"/><circle cx="65.67" cy="363.32" r="0.95"/><circle cx="64.13" cy="400.33" r="0.95"/><circle cx="63.66" cy="384.65" r="0.95"/><circle cx="59.46" cy="398.81" r="0.95"/><circle cx="63.29" cy="357.62" r="0.95"/><circle cx="57.95" cy="384.09" r="0.95"/><circle cx="65.57" cy="344.64" r="0.95"/><circle cx="67.15" cy="347.57" r="0.95"/><circle cx="66.09" cy="356.39" r="0.95"/><circle cx="58.06" cy="353.74" r="0.95"/><circle cx="60.94" cy="365.40" r="0.95"/><circle cx="60.73" cy="352.84" r="0.95"/><circle cx="58.68" cy="348.69" r="0.95"/><circle cx="63.82" cy="390.82" r="0.95"/><circle cx="65.52" cy="363.84" r="0.95"/><circle cx="60.69" cy="376.68" r="0.95"/><circle cx="66.18" cy="372.33" r="0.95"/><circle cx="65.52" cy="324.40" r="0.95"/><circle cx="58.84" cy="372.29" r="0.95"/><circle cx="65.22" cy="352.43" r="0.95"/><circle cx="66.38" cy="328.92" r="0.95"/><circle cx="59.52" cy="366.55" r="0.95"/><circle cx="63.29" cy="354.46" r="0.95"/><circle cx="63.94" cy="348.76" r="0.95"/><circle cx="63.64" cy="349.96" r="0.95"/><circle cx="58.51" cy="383.00" r="0.95"/><circle cx="64.16" cy="349.64" r="0.95"/><circle cx="63.87" cy="316.76" r="0.95"/><circle cx="65.79" cy="391.26" r="0.95"/><circle cx="65.59" cy="329.56" r="0.95"/><circle cx="60.82" cy="348.53" r="0.95"/><circle cx="64.77" cy="368.04" r="0.95"/><circle cx="66.22" cy="300.31" r="0.95"/><circle cx="66.48" cy="332.05" r="0.95"/><circle cx="59.17" cy="382.34" r="0.95"/><circle cx="57.82" cy="349.68" r="0.95"/><circle cx="64.06" cy="336.81" r="0.95"/><circle cx="59.70" cy="356.43" r="0.95"/><circle cx="63.19" cy="334.09" r="0.95"/><circle cx="67.00" cy="353.30" r="0.95"/><circle cx="61.34" cy="334.49" r="0.95"/><circle cx="60.08" cy="314.72" r="0.95"/><circle cx="62.12" cy="368.91" r="0.95"/><circle cx="64.12" cy="346.39" r="0.95"/><circle cx="58.56" cy="363.47" r="0.95"/><circle cx="61.36" cy="348.33" r="0.95"/><circle cx="58.89" cy="382.03" r="0.95"/><circle cx="64.17" cy="366.44" r="0.95"/><circle cx="65.86" cy="356.62" r="0.95"/><circle cx="61.32" cy="328.55" r="0.95"/><circle cx="61.27" cy="322.23" r="0.95"/><circle cx="62.95" cy="385.52" r="0.95"/><circle cx="59.70" cy="371.96" r="0.95"/><circle cx="60.02" cy="335.01" r="0.95"/><circle cx="60.85" cy="402.67" r="0.95"/><circle cx="62.12" cy="363.47" r="0.95"/><circle cx="58.37" cy="354.09" r="0.95"/><circle cx="65.08" cy="319.37" r="0.95"/><circle cx="63.34" cy="333.92" r="0.95"/><circle cx="60.55" cy="359.98" r="0.95"/><circle cx="58.33" cy="361.04" r="0.95"/><circle cx="65.18" cy="358.01" r="0.95"/><circle cx="58.86" cy="312.54" r="0.95"/><circle cx="58.88" cy="362.57" r="0.95"/><circle cx="58.86" cy="359.38" r="0.95"/><circle cx="58.36" cy="342.55" r="0.95"/><circle cx="66.61" cy="354.69" r="0.95"/><circle cx="60.24" cy="356.65" r="0.95"/><circle cx="60.61" cy="380.15" r="0.95"/><circle cx="65.88" cy="351.89" r="0.95"/><circle cx="63.75" cy="362.96" r="0.95"/><circle cx="59.42" cy="321.70" r="0.95"/><circle cx="61.90" cy="334.85" r="0.95"/><circle cx="66.39" cy="352.21" r="0.95"/><circle cx="61.30" cy="334.46" r="0.95"/><circle cx="64.66" cy="360.31" r="0.95"/><circle cx="58.52" cy="324.62" r="0.95"/><circle cx="64.82" cy="351.73" r="0.95"/><circle cx="65.31" cy="336.64" r="0.95"/><circle cx="65.81" cy="384.69" r="0.95"/><circle cx="64.29" cy="342.71" r="0.95"/><circle cx="61.26" cy="394.87" r="0.95"/><circle cx="58.19" cy="403.77" r="0.95"/><circle cx="62.74" cy="359.40" r="0.95"/><circle cx="65.12" cy="374.66" r="0.95"/><circle cx="59.46" cy="347.39" r="0.95"/><circle cx="60.21" cy="294.05" r="0.95"/><circle cx="62.91" cy="372.92" r="0.95"/><circle cx="65.03" cy="367.59" r="0.95"/><circle cx="66.52" cy="346.33" r="0.95"/><circle cx="58.81" cy="338.95" r="0.95"/><circle cx="59.39" cy="356.12" r="0.95"/><circle cx="65.55" cy="356.87" r="0.95"/><circle cx="64.00" cy="333.58" r="0.95"/><circle cx="64.76" cy="338.26" r="0.95"/><circle cx="67.52" cy="378.09" r="0.95"/><circle cx="66.94" cy="353.62" r="0.95"/><circle cx="65.98" cy="350.69" r="0.95"/><circle cx="65.32" cy="378.63" r="0.95"/><circle cx="61.50" cy="344.93" r="0.95"/><circle cx="63.96" cy="373.59" r="0.95"/><circle cx="59.39" cy="326.67" r="0.95"/><circle cx="65.14" cy="346.65" r="0.95"/><circle cx="65.13" cy="349.30" r="0.95"/><circle cx="64.76" cy="366.74" r="0.95"/><circle cx="62.00" cy="354.63" r="0.95"/><circle cx="61.33" cy="402.81" r="0.95"/><circle cx="61.75" cy="380.60" r="0.95"/><circle cx="57.88" cy="342.29" r="0.95"/><circle cx="65.99" cy="406.16" r="0.95"/><circle cx="62.97" cy="329.89" r="0.95"/><circle cx="61.43" cy="396.36" r="0.95"/><circle cx="63.03" cy="332.19" r="0.95"/><circle cx="64.77" cy="373.27" r="0.95"/><circle cx="61.36" cy="331.62" r="0.95"/><circle cx="65.86" cy="348.24" r="0.95"/><circle cx="66.74" cy="390.99" r="0.95"/><circle cx="61.42" cy="319.57" r="0.95"/><circle cx="58.93" cy="314.63" r="0.95"/><circle cx="65.15" cy="353.28" r="0.95"/><circle cx="67.48" cy="358.62" r="0.95"/><circle cx="59.03" cy="355.69" r="0.95"/><circle cx="64.68" cy="376.59" r="0.95"/><circle cx="65.80" cy="323.43" r="0.95"/><circle cx="66.76" cy="365.51" r="0.95"/><circle cx="58.78" cy="352.91" r="0.95"/><circle cx="58.47" cy="371.93" r="0.95"/><circle cx="67.43" cy="367.64" r="0.95"/><circle cx="58.72" cy="384.35" r="0.95"/><circle cx="59.32" cy="319.37" r="0.95"/><circle cx="63.30" cy="355.54" r="0.95"/><circle cx="62.01" cy="326.83" r="0.95"/><circle cx="65.05" cy="351.25" r="0.95"/><circle cx="59.46" cy="369.39" r="0.95"/><circle cx="66.69" cy="359.97" r="0.95"/><circle cx="59.72" cy="365.96" r="0.95"/><circle cx="65.24" cy="351.39" r="0.95"/><circle cx="58.23" cy="361.21" r="0.95"/><circle cx="62.28" cy="359.28" r="0.95"/><circle cx="57.88" cy="386.93" r="0.95"/><circle cx="60.69" cy="372.28" r="0.95"/><circle cx="60.67" cy="309.19" r="0.95"/><circle cx="64.75" cy="368.80" r="0.95"/><circle cx="62.10" cy="378.62" r="0.95"/><circle cx="58.12" cy="342.95" r="0.95"/><circle cx="67.50" cy="315.52" r="0.95"/><circle cx="66.44" cy="388.87" r="0.95"/><circle cx="66.71" cy="356.94" r="0.95"/><circle cx="60.02" cy="367.80" r="0.95"/><circle cx="61.49" cy="396.74" r="0.95"/><circle cx="59.82" cy="332.75" r="0.95"/><circle cx="58.80" cy="352.19" r="0.95"/><circle cx="57.88" cy="349.76" r="0.95"/><circle cx="62.58" cy="370.88" r="0.95"/><circle cx="58.78" cy="339.93" r="0.95"/><circle cx="59.31" cy="365.42" r="0.95"/><circle cx="66.15" cy="355.26" r="0.95"/><circle cx="62.39" cy="380.00" r="0.95"/><circle cx="59.39" cy="382.77" r="0.95"/><circle cx="64.25" cy="317.36" r="0.95"/><circle cx="60.21" cy="364.59" r="0.95"/><circle cx="62.82" cy="344.12" r="0.95"/><circle cx="60.38" cy="413.80" r="0.95"/><circle cx="62.71" cy="293.53" r="0.95"/><circle cx="63.84" cy="411.91" r="0.95"/><circle cx="62.91" cy="297.31" r="0.95"/><circle cx="61.51" cy="299.19" r="0.95"/><circle cx="65.46" cy="408.52" r="0.95"/><circle cx="107.72" cy="303.38" r="0.95"/><circle cx="112.92" cy="329.89" r="0.95"/><circle cx="111.93" cy="341.01" r="0.95"/><circle cx="111.34" cy="377.13" r="0.95"/><circle cx="114.41" cy="334.12" r="0.95"/><circle cx="109.23" cy="382.53" r="0.95"/><circle cx="109.05" cy="371.38" r="0.95"/><circle cx="111.82" cy="324.45" r="0.95"/><circle cx="113.25" cy="327.52" r="0.95"/><circle cx="108.25" cy="345.28" r="0.95"/><circle cx="111.60" cy="377.63" r="0.95"/><circle cx="106.99" cy="349.87" r="0.95"/><circle cx="110.42" cy="356.24" r="0.95"/><circle cx="112.59" cy="328.96" r="0.95"/><circle cx="105.55" cy="295.35" r="0.95"/><circle cx="112.18" cy="337.67" r="0.95"/><circle cx="105.05" cy="358.33" r="0.95"/><circle cx="114.48" cy="366.44" r="0.95"/><circle cx="109.59" cy="343.33" r="0.95"/><circle cx="108.99" cy="345.83" r="0.95"/><circle cx="112.10" cy="366.04" r="0.95"/><circle cx="110.13" cy="339.76" r="0.95"/><circle cx="112.21" cy="366.03" r="0.95"/><circle cx="105.75" cy="319.11" r="0.95"/><circle cx="110.53" cy="320.13" r="0.95"/><circle cx="110.48" cy="319.68" r="0.95"/><circle cx="114.22" cy="352.00" r="0.95"/><circle cx="105.30" cy="331.50" r="0.95"/><circle cx="109.43" cy="344.91" r="0.95"/><circle cx="111.21" cy="350.23" r="0.95"/><circle cx="110.41" cy="349.20" r="0.95"/><circle cx="105.64" cy="369.12" r="0.95"/><circle cx="110.83" cy="372.11" r="0.95"/><circle cx="107.12" cy="325.70" r="0.95"/><circle cx="106.86" cy="346.13" r="0.95"/><circle cx="113.69" cy="337.68" r="0.95"/><circle cx="106.88" cy="321.40" r="0.95"/><circle cx="109.44" cy="378.10" r="0.95"/><circle cx="112.40" cy="358.43" r="0.95"/><circle cx="111.97" cy="338.53" r="0.95"/><circle cx="110.43" cy="389.67" r="0.95"/><circle cx="112.97" cy="289.76" r="0.95"/><circle cx="157.34" cy="305.98" r="0.95"/><circle cx="158.27" cy="307.86" r="0.95"/><circle cx="159.46" cy="312.01" r="0.95"/><circle cx="158.62" cy="325.58" r="0.95"/><circle cx="158.40" cy="335.00" r="0.95"/><circle cx="156.99" cy="340.66" r="0.95"/><circle cx="157.90" cy="349.33" r="0.95"/><circle cx="156.93" cy="365.16" r="0.95"/><circle cx="159.02" cy="383.64" r="0.95"/></g><rect x="33.4" y="248.5" width="153.00" height="170.80" fill="none" stroke="#868686" stroke-width="0.95"/><line x1="33.4" y1="267.6" x2="186.4" y2="267.6" stroke="#868686" stroke-width="0.95"/><text x="111.2" y="261.0" font-size="7.52" text-anchor="middle" fill="#1c1c1c" stroke="#1c1c1c" stroke-width="0.12"><tspan font-style="italic">KRAS/MYC</tspan>  copy status</text><text x="36.5" y="278.1" font-size="7.49" fill="#1c1c1c" stroke="#1c1c1c" stroke-width="0.12">Both vs. neither <tspan font-style="italic">P</tspan> = 0.015</text><line x1="31.2" y1="310.50" x2="33.4" y2="310.50" stroke="#555" stroke-width="0.6"/><text x="29.60" y="313.10" font-size="7.1" text-anchor="end" font-weight="normal" font-style="normal" fill="#2a2a2a" stroke="#2a2a2a" stroke-width="0.12">1</text><line x1="31.2" y1="348.20" x2="33.4" y2="348.20" stroke="#555" stroke-width="0.6"/><text x="29.60" y="350.80" font-size="7.1" text-anchor="end" font-weight="normal" font-style="normal" fill="#2a2a2a" stroke="#2a2a2a" stroke-width="0.12">0</text><line x1="31.2" y1="385.90" x2="33.4" y2="385.90" stroke="#555" stroke-width="0.6"/><text x="29.60" y="388.50" font-size="7.1" text-anchor="end" font-weight="normal" font-style="normal" fill="#2a2a2a" stroke="#2a2a2a" stroke-width="0.12">−1</text><line x1="62.5" y1="419.3" x2="62.5" y2="420.90000000000003" stroke="#555" stroke-width="0.6"/><text x="62.50" y="428.90" font-size="6.92" text-anchor="middle" font-weight="normal" font-style="normal" fill="#2a2a2a" stroke="#2a2a2a" stroke-width="0.1">Neither</text><text x="62.50" y="436.70" font-size="6.92" text-anchor="middle" font-weight="normal" font-style="normal" fill="#2a2a2a" stroke="#2a2a2a" stroke-width="0.1">amplified</text><line x1="109.9" y1="419.3" x2="109.9" y2="420.90000000000003" stroke="#555" stroke-width="0.6"/><text x="109.90" y="428.90" font-size="6.92" text-anchor="middle" font-weight="normal" font-style="normal" fill="#2a2a2a" stroke="#2a2a2a" stroke-width="0.1">One</text><text x="109.90" y="436.70" font-size="6.92" text-anchor="middle" font-weight="normal" font-style="normal" fill="#2a2a2a" stroke="#2a2a2a" stroke-width="0.1">amplified</text><line x1="157.5" y1="419.3" x2="157.5" y2="420.90000000000003" stroke="#555" stroke-width="0.6"/><text x="157.50" y="428.90" font-size="6.92" text-anchor="middle" font-weight="normal" font-style="normal" fill="#2a2a2a" stroke="#2a2a2a" stroke-width="0.1">Both</text><text x="157.50" y="436.70" font-size="6.92" text-anchor="middle" font-weight="normal" font-style="normal" fill="#2a2a2a" stroke="#2a2a2a" stroke-width="0.1">amplified</text><text transform="translate(12.7,342.3) rotate(-90)" font-size="7.46" text-anchor="middle" fill="#1c1c1c" stroke="#1c1c1c" stroke-width="0.12">Median glycolytic gene expression (<tspan font-style="italic">Z</tspan>-score)</text><text transform="translate(203.0,243.4) scale(0.92,1)" font-size="12.9" font-weight="bold" fill="#111" stroke="#111" stroke-width="0.45">C</text><rect x="244.90" y="248.50" width="136.40" height="9.80" fill="#f1f1f1"/><path d="M244.90 299.90H381.30 M244.90 333.10H381.30 M244.90 366.30H381.30 M279.20 258.30V396.50 M316.30 258.30V396.50 M353.40 258.30V396.50" stroke="#e0e0e0" stroke-width="0.6" stroke-dasharray="2.2,2.2"/><g fill="#858585"><circle cx="299.90" cy="332.37" r="1.12"/><circle cx="330.67" cy="304.21" r="1.12"/><circle cx="354.09" cy="307.08" r="1.12"/><circle cx="262.29" cy="343.94" r="1.12"/><circle cx="322.24" cy="339.43" r="1.12"/><circle cx="310.78" cy="344.31" r="1.12"/><circle cx="323.82" cy="320.99" r="1.12"/><circle cx="296.18" cy="334.29" r="1.12"/><circle cx="303.02" cy="317.23" r="1.12"/><circle cx="317.22" cy="372.35" r="1.12"/><circle cx="324.60" cy="299.81" r="1.12"/><circle cx="344.01" cy="335.15" r="1.12"/><circle cx="309.89" cy="318.64" r="1.12"/><circle cx="320.34" cy="336.00" r="1.12"/><circle cx="363.27" cy="341.16" r="1.12"/><circle cx="307.94" cy="323.26" r="1.12"/><circle cx="307.34" cy="315.58" r="1.12"/><circle cx="316.68" cy="337.40" r="1.12"/><circle cx="316.75" cy="336.35" r="1.12"/><circle cx="334.82" cy="318.53" r="1.12"/><circle cx="316.31" cy="351.59" r="1.12"/><circle cx="299.16" cy="365.28" r="1.12"/><circle cx="323.33" cy="324.71" r="1.12"/><circle cx="357.55" cy="347.35" r="1.12"/><circle cx="329.94" cy="373.90" r="1.12"/><circle cx="269.76" cy="350.40" r="1.12"/><circle cx="313.76" cy="343.04" r="1.12"/><circle cx="270.62" cy="358.45" r="1.12"/><circle cx="321.43" cy="364.81" r="1.12"/><circle cx="315.53" cy="332.32" r="1.12"/><circle cx="353.27" cy="314.04" r="1.12"/><circle cx="332.07" cy="338.05" r="1.12"/><circle cx="329.12" cy="348.90" r="1.12"/><circle cx="322.89" cy="324.92" r="1.12"/><circle cx="320.74" cy="317.86" r="1.12"/><circle cx="322.27" cy="339.47" r="1.12"/><circle cx="341.43" cy="321.53" r="1.12"/><circle cx="331.45" cy="310.94" r="1.12"/><circle cx="311.58" cy="337.50" r="1.12"/><circle cx="334.98" cy="350.39" r="1.12"/><circle cx="322.81" cy="325.71" r="1.12"/><circle cx="318.02" cy="327.84" r="1.12"/><circle cx="310.39" cy="309.75" r="1.12"/><circle cx="303.27" cy="360.39" r="1.12"/><circle cx="304.95" cy="347.16" r="1.12"/><circle cx="269.49" cy="350.91" r="1.12"/><circle cx="326.68" cy="369.94" r="1.12"/><circle cx="327.83" cy="330.41" r="1.12"/><circle cx="317.09" cy="321.89" r="1.12"/><circle cx="331.64" cy="348.80" r="1.12"/><circle cx="331.44" cy="303.66" r="1.12"/><circle cx="327.83" cy="315.64" r="1.12"/><circle cx="281.20" cy="319.77" r="1.12"/><circle cx="316.22" cy="324.56" r="1.12"/><circle cx="331.02" cy="312.79" r="1.12"/><circle cx="338.03" cy="361.40" r="1.12"/><circle cx="350.51" cy="320.06" r="1.12"/><circle cx="343.79" cy="320.29" r="1.12"/><circle cx="291.51" cy="370.66" r="1.12"/><circle cx="284.39" cy="325.73" r="1.12"/><circle cx="326.20" cy="338.42" r="1.12"/><circle cx="322.12" cy="316.49" r="1.12"/><circle cx="331.65" cy="342.43" r="1.12"/><circle cx="316.05" cy="333.49" r="1.12"/><circle cx="323.23" cy="325.82" r="1.12"/><circle cx="290.09" cy="351.72" r="1.12"/><circle cx="328.05" cy="320.38" r="1.12"/><circle cx="310.53" cy="335.33" r="1.12"/><circle cx="326.00" cy="322.64" r="1.12"/><circle cx="330.46" cy="344.19" r="1.12"/><circle cx="321.17" cy="310.02" r="1.12"/><circle cx="325.98" cy="320.24" r="1.12"/><circle cx="317.13" cy="336.88" r="1.12"/><circle cx="333.21" cy="319.67" r="1.12"/><circle cx="331.90" cy="306.33" r="1.12"/><circle cx="317.43" cy="295.04" r="1.12"/><circle cx="277.72" cy="366.54" r="1.12"/><circle cx="350.17" cy="314.34" r="1.12"/><circle cx="318.62" cy="323.22" r="1.12"/><circle cx="333.68" cy="335.09" r="1.12"/><circle cx="319.94" cy="354.49" r="1.12"/><circle cx="314.75" cy="306.39" r="1.12"/><circle cx="300.43" cy="359.91" r="1.12"/><circle cx="322.64" cy="321.05" r="1.12"/><circle cx="328.15" cy="305.44" r="1.12"/><circle cx="320.82" cy="367.09" r="1.12"/><circle cx="296.43" cy="339.53" r="1.12"/><circle cx="302.69" cy="360.92" r="1.12"/><circle cx="317.73" cy="327.91" r="1.12"/><circle cx="350.71" cy="300.92" r="1.12"/><circle cx="289.34" cy="290.10" r="1.12"/><circle cx="317.20" cy="370.88" r="1.12"/><circle cx="306.88" cy="345.32" r="1.12"/><circle cx="328.26" cy="318.15" r="1.12"/><circle cx="317.37" cy="299.54" r="1.12"/><circle cx="325.91" cy="324.15" r="1.12"/><circle cx="339.94" cy="348.95" r="1.12"/><circle cx="325.19" cy="326.79" r="1.12"/><circle cx="325.05" cy="333.45" r="1.12"/><circle cx="323.23" cy="337.43" r="1.12"/><circle cx="302.78" cy="348.71" r="1.12"/><circle cx="328.63" cy="324.87" r="1.12"/><circle cx="316.19" cy="326.56" r="1.12"/><circle cx="304.69" cy="335.08" r="1.12"/><circle cx="314.20" cy="337.81" r="1.12"/><circle cx="308.71" cy="360.40" r="1.12"/><circle cx="328.08" cy="343.43" r="1.12"/><circle cx="329.77" cy="307.47" r="1.12"/><circle cx="308.79" cy="337.15" r="1.12"/><circle cx="335.07" cy="363.69" r="1.12"/><circle cx="340.06" cy="304.75" r="1.12"/><circle cx="340.96" cy="321.83" r="1.12"/><circle cx="337.43" cy="288.31" r="1.12"/><circle cx="316.67" cy="331.77" r="1.12"/><circle cx="309.34" cy="342.90" r="1.12"/><circle cx="307.14" cy="363.86" r="1.12"/><circle cx="339.36" cy="304.97" r="1.12"/><circle cx="320.64" cy="329.86" r="1.12"/><circle cx="290.62" cy="350.54" r="1.12"/><circle cx="314.61" cy="346.85" r="1.12"/><circle cx="298.08" cy="320.43" r="1.12"/><circle cx="317.08" cy="350.74" r="1.12"/><circle cx="297.58" cy="338.85" r="1.12"/><circle cx="264.63" cy="340.53" r="1.12"/><circle cx="320.93" cy="329.02" r="1.12"/><circle cx="321.83" cy="309.84" r="1.12"/><circle cx="291.54" cy="332.63" r="1.12"/><circle cx="334.32" cy="313.57" r="1.12"/><circle cx="351.03" cy="342.02" r="1.12"/><circle cx="295.82" cy="326.13" r="1.12"/><circle cx="337.77" cy="378.53" r="1.12"/><circle cx="300.56" cy="363.91" r="1.12"/><circle cx="307.51" cy="316.19" r="1.12"/><circle cx="312.62" cy="345.64" r="1.12"/><circle cx="267.75" cy="320.78" r="1.12"/><circle cx="375.18" cy="321.58" r="1.12"/><circle cx="332.04" cy="305.00" r="1.12"/><circle cx="309.73" cy="315.85" r="1.12"/><circle cx="318.29" cy="311.49" r="1.12"/><circle cx="293.28" cy="335.47" r="1.12"/><circle cx="309.42" cy="347.94" r="1.12"/><circle cx="329.91" cy="348.64" r="1.12"/><circle cx="288.38" cy="343.47" r="1.12"/><circle cx="306.05" cy="357.11" r="1.12"/><circle cx="317.89" cy="344.73" r="1.12"/><circle cx="334.59" cy="335.07" r="1.12"/><circle cx="340.98" cy="327.75" r="1.12"/><circle cx="309.28" cy="340.30" r="1.12"/><circle cx="267.87" cy="373.97" r="1.12"/><circle cx="325.07" cy="334.64" r="1.12"/><circle cx="313.33" cy="328.31" r="1.12"/><circle cx="318.06" cy="310.06" r="1.12"/><circle cx="366.97" cy="320.82" r="1.12"/><circle cx="342.42" cy="346.77" r="1.12"/><circle cx="319.17" cy="348.48" r="1.12"/><circle cx="324.13" cy="290.38" r="1.12"/><circle cx="330.75" cy="317.02" r="1.12"/><circle cx="296.07" cy="294.19" r="1.12"/><circle cx="327.46" cy="287.85" r="1.12"/><circle cx="297.42" cy="350.48" r="1.12"/><circle cx="358.30" cy="324.91" r="1.12"/><circle cx="331.80" cy="323.36" r="1.12"/><circle cx="322.95" cy="321.21" r="1.12"/><circle cx="317.47" cy="321.59" r="1.12"/><circle cx="278.64" cy="328.81" r="1.12"/><circle cx="330.40" cy="329.40" r="1.12"/><circle cx="337.57" cy="365.03" r="1.12"/><circle cx="305.69" cy="336.61" r="1.12"/><circle cx="336.77" cy="348.99" r="1.12"/><circle cx="330.34" cy="330.42" r="1.12"/><circle cx="291.16" cy="343.03" r="1.12"/><circle cx="335.99" cy="319.96" r="1.12"/><circle cx="343.63" cy="315.70" r="1.12"/><circle cx="323.22" cy="326.54" r="1.12"/><circle cx="318.56" cy="326.38" r="1.12"/><circle cx="331.24" cy="331.13" r="1.12"/><circle cx="252.68" cy="342.61" r="1.12"/><circle cx="318.91" cy="336.60" r="1.12"/><circle cx="354.12" cy="343.63" r="1.12"/><circle cx="299.93" cy="324.86" r="1.12"/><circle cx="334.17" cy="332.80" r="1.12"/><circle cx="314.05" cy="320.75" r="1.12"/><circle cx="359.74" cy="361.33" r="1.12"/><circle cx="320.46" cy="314.24" r="1.12"/><circle cx="299.09" cy="349.31" r="1.12"/><circle cx="319.98" cy="348.70" r="1.12"/><circle cx="298.42" cy="337.30" r="1.12"/><circle cx="332.50" cy="345.07" r="1.12"/><circle cx="307.59" cy="326.91" r="1.12"/><circle cx="321.30" cy="345.30" r="1.12"/><circle cx="303.79" cy="355.82" r="1.12"/><circle cx="309.15" cy="351.07" r="1.12"/><circle cx="343.23" cy="305.22" r="1.12"/><circle cx="321.82" cy="332.16" r="1.12"/><circle cx="306.54" cy="357.91" r="1.12"/><circle cx="298.07" cy="332.92" r="1.12"/><circle cx="329.79" cy="366.16" r="1.12"/><circle cx="338.00" cy="295.08" r="1.12"/><circle cx="306.03" cy="365.49" r="1.12"/><circle cx="324.22" cy="322.93" r="1.12"/><circle cx="304.06" cy="321.55" r="1.12"/><circle cx="295.31" cy="363.91" r="1.12"/><circle cx="306.23" cy="326.72" r="1.12"/><circle cx="328.33" cy="311.91" r="1.12"/><circle cx="325.02" cy="323.16" r="1.12"/><circle cx="307.35" cy="327.55" r="1.12"/><circle cx="334.29" cy="312.93" r="1.12"/><circle cx="331.49" cy="329.68" r="1.12"/><circle cx="322.45" cy="325.95" r="1.12"/><circle cx="334.28" cy="335.79" r="1.12"/><circle cx="316.38" cy="319.68" r="1.12"/><circle cx="312.09" cy="353.10" r="1.12"/><circle cx="329.33" cy="316.28" r="1.12"/><circle cx="315.33" cy="343.84" r="1.12"/><circle cx="326.00" cy="356.27" r="1.12"/><circle cx="299.66" cy="325.34" r="1.12"/><circle cx="348.71" cy="297.13" r="1.12"/><circle cx="298.05" cy="312.67" r="1.12"/><circle cx="313.18" cy="344.06" r="1.12"/><circle cx="299.16" cy="318.27" r="1.12"/><circle cx="325.76" cy="342.75" r="1.12"/><circle cx="338.07" cy="335.74" r="1.12"/><circle cx="335.78" cy="331.20" r="1.12"/><circle cx="321.11" cy="382.34" r="1.12"/><circle cx="259.08" cy="329.03" r="1.12"/><circle cx="300.94" cy="354.98" r="1.12"/><circle cx="307.58" cy="347.92" r="1.12"/><circle cx="296.48" cy="364.43" r="1.12"/><circle cx="329.37" cy="365.32" r="1.12"/><circle cx="316.87" cy="353.14" r="1.12"/><circle cx="326.29" cy="315.56" r="1.12"/><circle cx="333.50" cy="297.70" r="1.12"/><circle cx="302.74" cy="333.64" r="1.12"/><circle cx="308.47" cy="309.90" r="1.12"/><circle cx="302.80" cy="338.71" r="1.12"/><circle cx="317.54" cy="373.73" r="1.12"/><circle cx="324.32" cy="329.91" r="1.12"/><circle cx="329.46" cy="323.63" r="1.12"/><circle cx="333.56" cy="342.21" r="1.12"/><circle cx="297.70" cy="326.68" r="1.12"/><circle cx="311.73" cy="320.93" r="1.12"/><circle cx="316.63" cy="351.45" r="1.12"/><circle cx="289.82" cy="364.48" r="1.12"/><circle cx="308.60" cy="337.80" r="1.12"/><circle cx="333.50" cy="337.58" r="1.12"/><circle cx="334.29" cy="340.59" r="1.12"/><circle cx="339.91" cy="312.12" r="1.12"/><circle cx="326.62" cy="296.43" r="1.12"/><circle cx="312.87" cy="341.95" r="1.12"/><circle cx="338.66" cy="318.25" r="1.12"/><circle cx="316.41" cy="313.11" r="1.12"/><circle cx="326.81" cy="317.95" r="1.12"/><circle cx="344.18" cy="310.84" r="1.12"/><circle cx="310.49" cy="341.37" r="1.12"/><circle cx="311.68" cy="317.38" r="1.12"/><circle cx="327.13" cy="290.08" r="1.12"/><circle cx="331.40" cy="316.02" r="1.12"/><circle cx="323.12" cy="346.27" r="1.12"/><circle cx="323.40" cy="320.19" r="1.12"/><circle cx="332.79" cy="306.28" r="1.12"/><circle cx="294.10" cy="325.26" r="1.12"/><circle cx="278.18" cy="345.07" r="1.12"/><circle cx="327.73" cy="300.31" r="1.12"/><circle cx="297.59" cy="359.66" r="1.12"/><circle cx="298.86" cy="322.40" r="1.12"/><circle cx="298.67" cy="333.44" r="1.12"/><circle cx="298.01" cy="358.46" r="1.12"/><circle cx="324.58" cy="307.19" r="1.12"/><circle cx="303.28" cy="325.71" r="1.12"/><circle cx="316.67" cy="357.89" r="1.12"/><circle cx="348.13" cy="320.31" r="1.12"/><circle cx="313.84" cy="342.27" r="1.12"/><circle cx="330.07" cy="373.53" r="1.12"/><circle cx="319.69" cy="347.74" r="1.12"/><circle cx="301.34" cy="327.50" r="1.12"/><circle cx="316.90" cy="319.59" r="1.12"/><circle cx="303.12" cy="329.58" r="1.12"/><circle cx="330.70" cy="332.14" r="1.12"/><circle cx="278.02" cy="323.11" r="1.12"/><circle cx="338.46" cy="337.58" r="1.12"/><circle cx="332.75" cy="308.09" r="1.12"/><circle cx="344.50" cy="329.94" r="1.12"/><circle cx="332.09" cy="326.85" r="1.12"/><circle cx="345.56" cy="321.61" r="1.12"/><circle cx="300.68" cy="355.56" r="1.12"/><circle cx="330.80" cy="348.17" r="1.12"/><circle cx="296.14" cy="300.62" r="1.12"/><circle cx="323.72" cy="325.98" r="1.12"/><circle cx="290.17" cy="339.11" r="1.12"/><circle cx="327.45" cy="325.84" r="1.12"/><circle cx="287.24" cy="343.33" r="1.12"/><circle cx="277.09" cy="327.18" r="1.12"/><circle cx="321.52" cy="347.25" r="1.12"/><circle cx="356.18" cy="327.24" r="1.12"/><circle cx="301.47" cy="366.62" r="1.12"/><circle cx="337.50" cy="304.82" r="1.12"/><circle cx="317.62" cy="344.00" r="1.12"/><circle cx="305.83" cy="366.70" r="1.12"/><circle cx="327.04" cy="337.86" r="1.12"/><circle cx="378.60" cy="340.98" r="1.12"/></g><polygon points="251.38,343.88 255.68,343.17 259.98,342.45 264.29,341.73 268.59,341.01 272.90,340.28 277.20,339.54 281.51,338.79 285.81,338.02 290.12,337.24 294.42,336.43 298.73,335.58 303.03,334.68 307.34,333.72 311.64,332.66 315.95,331.48 320.25,330.18 324.56,328.76 328.86,327.25 333.17,325.66 337.47,324.02 341.78,322.34 346.08,320.63 350.39,318.90 354.69,317.16 359.00,315.40 363.30,313.64 367.61,311.87 371.91,310.09 376.22,308.31 376.22,324.69 371.91,325.40 367.61,326.12 363.30,326.85 359.00,327.58 354.69,328.32 350.39,329.07 346.08,329.84 341.78,330.63 337.47,331.44 333.17,332.30 328.86,333.21 324.56,334.19 320.25,335.26 315.95,336.46 311.64,337.78 307.34,339.22 303.03,340.74 298.73,342.34 294.42,343.99 290.12,345.68 285.81,347.39 281.51,349.12 277.20,350.87 272.90,352.62 268.59,354.39 264.29,356.16 259.98,357.93 255.68,359.71 251.38,361.50" fill="#bdbdbd" fill-opacity="0.6"/><line x1="251.38" y1="352.69" x2="376.22" y2="316.50" stroke="#1a1a1a" stroke-width="1.65"/><rect x="244.9" y="248.5" width="136.40" height="148.00" fill="none" stroke="#868686" stroke-width="0.95"/><line x1="244.9" y1="258.3" x2="381.3" y2="258.3" stroke="#868686" stroke-width="0.95"/><text x="317.50" y="255.80" font-size="7.5" text-anchor="middle" font-weight="normal" font-style="italic" fill="#1c1c1c" stroke="#1c1c1c" stroke-width="0.12">KRAS</text><text x="246.50" y="265.6" font-size="7.05" fill="#1c1c1c" stroke="#1c1c1c" stroke-width="0.1"><tspan font-style="italic">P</tspan> = 6.6e-7</text><text x="246.30" y="274.8" font-size="7.2" fill="#1c1c1c" stroke="#1c1c1c" stroke-width="0.1">ρ = 0.27</text><line x1="279.20" y1="396.5" x2="279.20" y2="398.1" stroke="#555" stroke-width="0.6"/><text x="279.20" y="404.90" font-size="7.0" text-anchor="middle" font-weight="normal" font-style="normal" fill="#2a2a2a" stroke="#2a2a2a" stroke-width="0.12">−2</text><line x1="316.30" y1="396.5" x2="316.30" y2="398.1" stroke="#555" stroke-width="0.6"/><text x="316.30" y="404.90" font-size="7.0" text-anchor="middle" font-weight="normal" font-style="normal" fill="#2a2a2a" stroke="#2a2a2a" stroke-width="0.12">0</text><line x1="353.40" y1="396.5" x2="353.40" y2="398.1" stroke="#555" stroke-width="0.6"/><text x="353.40" y="404.90" font-size="7.0" text-anchor="middle" font-weight="normal" font-style="normal" fill="#2a2a2a" stroke="#2a2a2a" stroke-width="0.12">2</text><rect x="383.40" y="248.50" width="146.60" height="9.80" fill="#f1f1f1"/><path d="M383.40 299.90H530.00 M383.40 333.10H530.00 M383.40 366.30H530.00 M409.90 258.30V396.50 M442.50 258.30V396.50 M475.10 258.30V396.50 M507.70 258.30V396.50" stroke="#e0e0e0" stroke-width="0.6" stroke-dasharray="2.2,2.2"/><g fill="#858585"><circle cx="455.38" cy="332.37" r="1.12"/><circle cx="450.82" cy="304.21" r="1.12"/><circle cx="485.30" cy="307.08" r="1.12"/><circle cx="441.16" cy="343.94" r="1.12"/><circle cx="432.32" cy="339.43" r="1.12"/><circle cx="442.10" cy="344.31" r="1.12"/><circle cx="419.40" cy="320.99" r="1.12"/><circle cx="448.95" cy="334.29" r="1.12"/><circle cx="441.17" cy="317.23" r="1.12"/><circle cx="441.96" cy="372.35" r="1.12"/><circle cx="451.22" cy="299.81" r="1.12"/><circle cx="422.94" cy="335.15" r="1.12"/><circle cx="465.13" cy="318.64" r="1.12"/><circle cx="423.59" cy="336.00" r="1.12"/><circle cx="455.17" cy="341.16" r="1.12"/><circle cx="415.34" cy="323.26" r="1.12"/><circle cx="449.52" cy="315.58" r="1.12"/><circle cx="426.72" cy="337.40" r="1.12"/><circle cx="441.45" cy="336.35" r="1.12"/><circle cx="431.86" cy="318.53" r="1.12"/><circle cx="401.94" cy="351.59" r="1.12"/><circle cx="418.37" cy="365.28" r="1.12"/><circle cx="443.30" cy="324.71" r="1.12"/><circle cx="449.96" cy="347.35" r="1.12"/><circle cx="411.34" cy="373.90" r="1.12"/><circle cx="403.08" cy="350.40" r="1.12"/><circle cx="407.98" cy="343.04" r="1.12"/><circle cx="434.49" cy="358.45" r="1.12"/><circle cx="426.58" cy="364.81" r="1.12"/><circle cx="412.91" cy="332.32" r="1.12"/><circle cx="457.83" cy="314.04" r="1.12"/><circle cx="456.88" cy="338.05" r="1.12"/><circle cx="451.77" cy="348.90" r="1.12"/><circle cx="426.25" cy="324.92" r="1.12"/><circle cx="444.26" cy="317.86" r="1.12"/><circle cx="437.08" cy="339.47" r="1.12"/><circle cx="418.37" cy="321.53" r="1.12"/><circle cx="458.74" cy="310.94" r="1.12"/><circle cx="442.09" cy="337.50" r="1.12"/><circle cx="430.84" cy="350.39" r="1.12"/><circle cx="466.01" cy="325.71" r="1.12"/><circle cx="454.69" cy="327.84" r="1.12"/><circle cx="458.44" cy="309.75" r="1.12"/><circle cx="458.14" cy="360.39" r="1.12"/><circle cx="451.58" cy="347.16" r="1.12"/><circle cx="417.57" cy="350.91" r="1.12"/><circle cx="430.10" cy="369.94" r="1.12"/><circle cx="458.43" cy="330.41" r="1.12"/><circle cx="429.47" cy="321.89" r="1.12"/><circle cx="439.85" cy="348.80" r="1.12"/><circle cx="451.41" cy="303.66" r="1.12"/><circle cx="496.92" cy="315.64" r="1.12"/><circle cx="464.70" cy="319.77" r="1.12"/><circle cx="457.35" cy="324.56" r="1.12"/><circle cx="440.41" cy="312.79" r="1.12"/><circle cx="453.17" cy="361.40" r="1.12"/><circle cx="451.62" cy="320.06" r="1.12"/><circle cx="439.91" cy="320.29" r="1.12"/><circle cx="459.54" cy="370.66" r="1.12"/><circle cx="450.36" cy="325.73" r="1.12"/><circle cx="427.66" cy="338.42" r="1.12"/><circle cx="464.53" cy="316.49" r="1.12"/><circle cx="435.65" cy="342.43" r="1.12"/><circle cx="451.09" cy="333.49" r="1.12"/><circle cx="416.17" cy="325.82" r="1.12"/><circle cx="438.50" cy="351.72" r="1.12"/><circle cx="426.60" cy="320.38" r="1.12"/><circle cx="424.34" cy="335.33" r="1.12"/><circle cx="444.86" cy="322.64" r="1.12"/><circle cx="475.99" cy="344.19" r="1.12"/><circle cx="441.78" cy="310.02" r="1.12"/><circle cx="446.64" cy="320.24" r="1.12"/><circle cx="459.34" cy="336.88" r="1.12"/><circle cx="440.61" cy="319.67" r="1.12"/><circle cx="452.96" cy="306.33" r="1.12"/><circle cx="422.64" cy="295.04" r="1.12"/><circle cx="440.32" cy="366.54" r="1.12"/><circle cx="436.30" cy="314.34" r="1.12"/><circle cx="450.69" cy="323.22" r="1.12"/><circle cx="443.85" cy="335.09" r="1.12"/><circle cx="414.99" cy="354.49" r="1.12"/><circle cx="412.91" cy="306.39" r="1.12"/><circle cx="420.61" cy="359.91" r="1.12"/><circle cx="454.95" cy="321.05" r="1.12"/><circle cx="451.55" cy="305.44" r="1.12"/><circle cx="443.73" cy="367.09" r="1.12"/><circle cx="458.89" cy="339.53" r="1.12"/><circle cx="433.60" cy="360.92" r="1.12"/><circle cx="431.07" cy="327.91" r="1.12"/><circle cx="439.25" cy="300.92" r="1.12"/><circle cx="435.97" cy="290.10" r="1.12"/><circle cx="442.41" cy="370.88" r="1.12"/><circle cx="436.60" cy="345.32" r="1.12"/><circle cx="402.81" cy="318.15" r="1.12"/><circle cx="430.13" cy="299.54" r="1.12"/><circle cx="444.46" cy="324.15" r="1.12"/><circle cx="440.26" cy="348.95" r="1.12"/><circle cx="440.45" cy="326.79" r="1.12"/><circle cx="479.27" cy="333.45" r="1.12"/><circle cx="435.97" cy="337.43" r="1.12"/><circle cx="441.08" cy="348.71" r="1.12"/><circle cx="425.07" cy="324.87" r="1.12"/><circle cx="435.64" cy="326.56" r="1.12"/><circle cx="449.55" cy="335.08" r="1.12"/><circle cx="449.94" cy="337.81" r="1.12"/><circle cx="434.94" cy="360.40" r="1.12"/><circle cx="446.34" cy="343.43" r="1.12"/><circle cx="444.92" cy="307.47" r="1.12"/><circle cx="432.73" cy="337.15" r="1.12"/><circle cx="432.27" cy="363.69" r="1.12"/><circle cx="483.40" cy="304.75" r="1.12"/><circle cx="456.29" cy="321.83" r="1.12"/><circle cx="445.32" cy="288.31" r="1.12"/><circle cx="411.62" cy="331.77" r="1.12"/><circle cx="418.10" cy="342.90" r="1.12"/><circle cx="460.10" cy="363.86" r="1.12"/><circle cx="397.09" cy="304.97" r="1.12"/><circle cx="435.77" cy="329.86" r="1.12"/><circle cx="453.46" cy="350.54" r="1.12"/><circle cx="441.63" cy="346.85" r="1.12"/><circle cx="455.17" cy="320.43" r="1.12"/><circle cx="436.52" cy="350.74" r="1.12"/><circle cx="480.68" cy="338.85" r="1.12"/><circle cx="422.58" cy="340.53" r="1.12"/><circle cx="418.31" cy="329.02" r="1.12"/><circle cx="448.33" cy="309.84" r="1.12"/><circle cx="465.12" cy="332.63" r="1.12"/><circle cx="443.83" cy="313.57" r="1.12"/><circle cx="457.54" cy="342.02" r="1.12"/><circle cx="432.73" cy="326.13" r="1.12"/><circle cx="415.32" cy="378.53" r="1.12"/><circle cx="460.84" cy="363.91" r="1.12"/><circle cx="469.46" cy="316.19" r="1.12"/><circle cx="465.30" cy="345.64" r="1.12"/><circle cx="434.94" cy="320.78" r="1.12"/><circle cx="422.71" cy="321.58" r="1.12"/><circle cx="424.48" cy="305.00" r="1.12"/><circle cx="439.15" cy="315.85" r="1.12"/><circle cx="453.34" cy="311.49" r="1.12"/><circle cx="449.20" cy="335.47" r="1.12"/><circle cx="414.81" cy="347.94" r="1.12"/><circle cx="442.29" cy="348.64" r="1.12"/><circle cx="439.92" cy="343.47" r="1.12"/><circle cx="437.99" cy="357.11" r="1.12"/><circle cx="439.06" cy="344.73" r="1.12"/><circle cx="437.22" cy="335.07" r="1.12"/><circle cx="451.55" cy="327.75" r="1.12"/><circle cx="442.15" cy="340.30" r="1.12"/><circle cx="439.75" cy="373.97" r="1.12"/><circle cx="429.00" cy="334.64" r="1.12"/><circle cx="448.15" cy="328.31" r="1.12"/><circle cx="441.60" cy="310.06" r="1.12"/><circle cx="406.56" cy="320.82" r="1.12"/><circle cx="447.40" cy="346.77" r="1.12"/><circle cx="427.61" cy="348.48" r="1.12"/><circle cx="461.71" cy="290.38" r="1.12"/><circle cx="439.19" cy="317.02" r="1.12"/><circle cx="443.95" cy="294.19" r="1.12"/><circle cx="449.92" cy="287.85" r="1.12"/><circle cx="438.57" cy="350.48" r="1.12"/><circle cx="434.30" cy="324.91" r="1.12"/><circle cx="411.70" cy="323.36" r="1.12"/><circle cx="473.49" cy="321.21" r="1.12"/><circle cx="415.55" cy="321.59" r="1.12"/><circle cx="435.61" cy="328.81" r="1.12"/><circle cx="452.37" cy="329.40" r="1.12"/><circle cx="443.44" cy="365.03" r="1.12"/><circle cx="450.04" cy="336.61" r="1.12"/><circle cx="451.97" cy="348.99" r="1.12"/><circle cx="462.57" cy="330.42" r="1.12"/><circle cx="444.70" cy="343.03" r="1.12"/><circle cx="491.64" cy="319.96" r="1.12"/><circle cx="425.82" cy="315.70" r="1.12"/><circle cx="445.51" cy="326.54" r="1.12"/><circle cx="435.58" cy="326.38" r="1.12"/><circle cx="422.04" cy="331.13" r="1.12"/><circle cx="444.58" cy="342.61" r="1.12"/><circle cx="491.69" cy="336.60" r="1.12"/><circle cx="427.58" cy="343.63" r="1.12"/><circle cx="429.84" cy="324.86" r="1.12"/><circle cx="453.17" cy="332.80" r="1.12"/><circle cx="451.57" cy="320.75" r="1.12"/><circle cx="470.59" cy="361.33" r="1.12"/><circle cx="460.54" cy="314.24" r="1.12"/><circle cx="442.80" cy="349.31" r="1.12"/><circle cx="433.41" cy="348.70" r="1.12"/><circle cx="444.01" cy="337.30" r="1.12"/><circle cx="436.46" cy="345.07" r="1.12"/><circle cx="418.52" cy="326.91" r="1.12"/><circle cx="439.54" cy="345.30" r="1.12"/><circle cx="428.91" cy="355.82" r="1.12"/><circle cx="428.08" cy="351.07" r="1.12"/><circle cx="436.97" cy="305.22" r="1.12"/><circle cx="469.58" cy="332.16" r="1.12"/><circle cx="449.65" cy="357.91" r="1.12"/><circle cx="456.74" cy="332.92" r="1.12"/><circle cx="426.59" cy="366.16" r="1.12"/><circle cx="428.16" cy="295.08" r="1.12"/><circle cx="432.17" cy="365.49" r="1.12"/><circle cx="452.10" cy="322.93" r="1.12"/><circle cx="436.42" cy="321.55" r="1.12"/><circle cx="426.40" cy="363.91" r="1.12"/><circle cx="457.91" cy="326.72" r="1.12"/><circle cx="448.49" cy="311.91" r="1.12"/><circle cx="408.50" cy="323.16" r="1.12"/><circle cx="427.10" cy="327.55" r="1.12"/><circle cx="422.66" cy="312.93" r="1.12"/><circle cx="444.34" cy="329.68" r="1.12"/><circle cx="421.98" cy="325.95" r="1.12"/><circle cx="437.52" cy="335.79" r="1.12"/><circle cx="454.21" cy="319.68" r="1.12"/><circle cx="438.94" cy="353.10" r="1.12"/><circle cx="427.44" cy="316.28" r="1.12"/><circle cx="429.14" cy="343.84" r="1.12"/><circle cx="440.17" cy="356.27" r="1.12"/><circle cx="449.98" cy="325.34" r="1.12"/><circle cx="459.38" cy="297.13" r="1.12"/><circle cx="440.88" cy="312.67" r="1.12"/><circle cx="417.26" cy="344.06" r="1.12"/><circle cx="466.77" cy="318.27" r="1.12"/><circle cx="444.74" cy="342.75" r="1.12"/><circle cx="447.42" cy="335.74" r="1.12"/><circle cx="446.27" cy="331.20" r="1.12"/><circle cx="417.37" cy="382.34" r="1.12"/><circle cx="435.96" cy="329.03" r="1.12"/><circle cx="442.58" cy="354.98" r="1.12"/><circle cx="456.55" cy="347.92" r="1.12"/><circle cx="438.10" cy="364.43" r="1.12"/><circle cx="443.26" cy="365.32" r="1.12"/><circle cx="434.36" cy="353.14" r="1.12"/><circle cx="448.96" cy="315.56" r="1.12"/><circle cx="467.04" cy="297.70" r="1.12"/><circle cx="452.84" cy="333.64" r="1.12"/><circle cx="485.81" cy="309.90" r="1.12"/><circle cx="464.29" cy="338.71" r="1.12"/><circle cx="458.77" cy="373.73" r="1.12"/><circle cx="457.21" cy="329.91" r="1.12"/><circle cx="418.62" cy="323.63" r="1.12"/><circle cx="468.60" cy="342.21" r="1.12"/><circle cx="451.79" cy="326.68" r="1.12"/><circle cx="433.44" cy="320.93" r="1.12"/><circle cx="448.58" cy="351.45" r="1.12"/><circle cx="444.15" cy="364.48" r="1.12"/><circle cx="432.43" cy="337.80" r="1.12"/><circle cx="438.24" cy="337.58" r="1.12"/><circle cx="435.51" cy="340.59" r="1.12"/><circle cx="447.30" cy="312.12" r="1.12"/><circle cx="438.12" cy="296.43" r="1.12"/><circle cx="449.02" cy="341.95" r="1.12"/><circle cx="410.22" cy="318.25" r="1.12"/><circle cx="435.94" cy="313.11" r="1.12"/><circle cx="414.19" cy="317.95" r="1.12"/><circle cx="435.39" cy="310.84" r="1.12"/><circle cx="448.62" cy="341.37" r="1.12"/><circle cx="443.13" cy="317.38" r="1.12"/><circle cx="444.20" cy="290.08" r="1.12"/><circle cx="444.10" cy="316.02" r="1.12"/><circle cx="465.84" cy="346.27" r="1.12"/><circle cx="423.71" cy="320.19" r="1.12"/><circle cx="459.13" cy="306.28" r="1.12"/><circle cx="416.22" cy="325.26" r="1.12"/><circle cx="431.51" cy="345.07" r="1.12"/><circle cx="447.60" cy="300.31" r="1.12"/><circle cx="423.25" cy="359.66" r="1.12"/><circle cx="445.63" cy="322.40" r="1.12"/><circle cx="453.16" cy="333.44" r="1.12"/><circle cx="417.61" cy="358.46" r="1.12"/><circle cx="442.69" cy="307.19" r="1.12"/><circle cx="435.39" cy="325.71" r="1.12"/><circle cx="405.04" cy="357.89" r="1.12"/><circle cx="437.47" cy="320.31" r="1.12"/><circle cx="426.26" cy="342.27" r="1.12"/><circle cx="458.64" cy="373.53" r="1.12"/><circle cx="424.29" cy="347.74" r="1.12"/><circle cx="470.30" cy="327.50" r="1.12"/><circle cx="433.48" cy="319.59" r="1.12"/><circle cx="474.09" cy="329.58" r="1.12"/><circle cx="450.11" cy="332.14" r="1.12"/><circle cx="449.76" cy="323.11" r="1.12"/><circle cx="453.96" cy="337.58" r="1.12"/><circle cx="459.16" cy="308.09" r="1.12"/><circle cx="491.42" cy="329.94" r="1.12"/><circle cx="503.88" cy="326.85" r="1.12"/><circle cx="436.39" cy="321.61" r="1.12"/><circle cx="417.00" cy="355.56" r="1.12"/><circle cx="393.84" cy="348.17" r="1.12"/><circle cx="438.24" cy="300.62" r="1.12"/><circle cx="454.60" cy="325.98" r="1.12"/><circle cx="446.55" cy="339.11" r="1.12"/><circle cx="443.70" cy="325.84" r="1.12"/><circle cx="433.71" cy="343.33" r="1.12"/><circle cx="419.68" cy="327.18" r="1.12"/><circle cx="434.36" cy="347.25" r="1.12"/><circle cx="448.16" cy="327.24" r="1.12"/><circle cx="406.96" cy="366.62" r="1.12"/><circle cx="456.62" cy="304.82" r="1.12"/><circle cx="414.87" cy="344.00" r="1.12"/><circle cx="434.13" cy="366.70" r="1.12"/><circle cx="429.56" cy="337.86" r="1.12"/><circle cx="433.66" cy="340.98" r="1.12"/></g><polygon points="390.18,340.83 394.47,340.12 398.75,339.41 403.04,338.69 407.33,337.97 411.62,337.23 415.91,336.48 420.20,335.72 424.49,334.93 428.77,334.10 433.06,333.24 437.35,332.31 441.64,331.31 445.93,330.21 450.22,329.02 454.51,327.72 458.79,326.34 463.08,324.89 467.37,323.38 471.66,321.83 475.95,320.26 480.24,318.66 484.53,317.05 488.81,315.42 493.10,313.79 497.39,312.14 501.68,310.49 505.97,308.84 510.26,307.18 514.55,305.52 514.55,322.17 510.26,322.87 505.97,323.57 501.68,324.27 497.39,324.98 493.10,325.69 488.81,326.42 484.53,327.15 480.24,327.89 475.95,328.65 471.66,329.44 467.37,330.25 463.08,331.10 458.79,332.01 454.51,332.98 450.22,334.04 445.93,335.21 441.64,336.47 437.35,337.83 433.06,339.26 428.77,340.75 424.49,342.29 420.20,343.85 415.91,345.45 411.62,347.05 407.33,348.68 403.04,350.31 398.75,351.95 394.47,353.60 390.18,355.25" fill="#bdbdbd" fill-opacity="0.6"/><line x1="390.18" y1="348.04" x2="514.55" y2="313.84" stroke="#1a1a1a" stroke-width="1.65"/><rect x="383.4" y="248.5" width="146.60" height="148.00" fill="none" stroke="#868686" stroke-width="0.95"/><line x1="383.4" y1="258.3" x2="530.0" y2="258.3" stroke="#868686" stroke-width="0.95"/><text x="452.40" y="255.80" font-size="7.5" text-anchor="middle" font-weight="normal" font-style="italic" fill="#1c1c1c" stroke="#1c1c1c" stroke-width="0.12">MYC</text><text x="385.00" y="265.6" font-size="7.05" fill="#1c1c1c" stroke="#1c1c1c" stroke-width="0.1"><tspan font-style="italic">P</tspan> = 0.007</text><text x="384.80" y="274.8" font-size="7.2" fill="#1c1c1c" stroke="#1c1c1c" stroke-width="0.1">ρ = 0.15</text><line x1="409.90" y1="396.5" x2="409.90" y2="398.1" stroke="#555" stroke-width="0.6"/><text x="409.90" y="404.90" font-size="7.0" text-anchor="middle" font-weight="normal" font-style="normal" fill="#2a2a2a" stroke="#2a2a2a" stroke-width="0.12">−2</text><line x1="442.50" y1="396.5" x2="442.50" y2="398.1" stroke="#555" stroke-width="0.6"/><text x="442.50" y="404.90" font-size="7.0" text-anchor="middle" font-weight="normal" font-style="normal" fill="#2a2a2a" stroke="#2a2a2a" stroke-width="0.12">0</text><line x1="475.10" y1="396.5" x2="475.10" y2="398.1" stroke="#555" stroke-width="0.6"/><text x="475.10" y="404.90" font-size="7.0" text-anchor="middle" font-weight="normal" font-style="normal" fill="#2a2a2a" stroke="#2a2a2a" stroke-width="0.12">2</text><line x1="507.70" y1="396.5" x2="507.70" y2="398.1" stroke="#555" stroke-width="0.6"/><text x="507.70" y="404.90" font-size="7.0" text-anchor="middle" font-weight="normal" font-style="normal" fill="#2a2a2a" stroke="#2a2a2a" stroke-width="0.12">4</text><line x1="242.9" y1="299.90" x2="244.9" y2="299.90" stroke="#555" stroke-width="0.6"/><text x="240.80" y="302.40" font-size="7.0" text-anchor="end" font-weight="normal" font-style="normal" fill="#2a2a2a" stroke="#2a2a2a" stroke-width="0.12">1</text><line x1="242.9" y1="333.10" x2="244.9" y2="333.10" stroke="#555" stroke-width="0.6"/><text x="240.80" y="335.60" font-size="7.0" text-anchor="end" font-weight="normal" font-style="normal" fill="#2a2a2a" stroke="#2a2a2a" stroke-width="0.12">0</text><line x1="242.9" y1="366.30" x2="244.9" y2="366.30" stroke="#555" stroke-width="0.6"/><text x="240.80" y="368.80" font-size="7.0" text-anchor="end" font-weight="normal" font-style="normal" fill="#2a2a2a" stroke="#2a2a2a" stroke-width="0.12">−1</text><text x="385.4" y="416.8" font-size="7.46" text-anchor="middle" fill="#1c1c1c" stroke="#1c1c1c" stroke-width="0.12">Gene expression (<tspan font-style="italic">Z</tspan>-score)</text><text transform="translate(212.0,323.1) rotate(-90)" font-size="8.9" text-anchor="middle" fill="#1c1c1c" stroke="#1c1c1c" stroke-width="0.12">Median glycolytic</text><text transform="translate(224.4,319.9) rotate(-90)" font-size="8.9" text-anchor="middle" fill="#1c1c1c" stroke="#1c1c1c" stroke-width="0.12">gene expression (<tspan font-style="italic">Z</tspan>-score)</text></g>
</svg>
</body></html>
